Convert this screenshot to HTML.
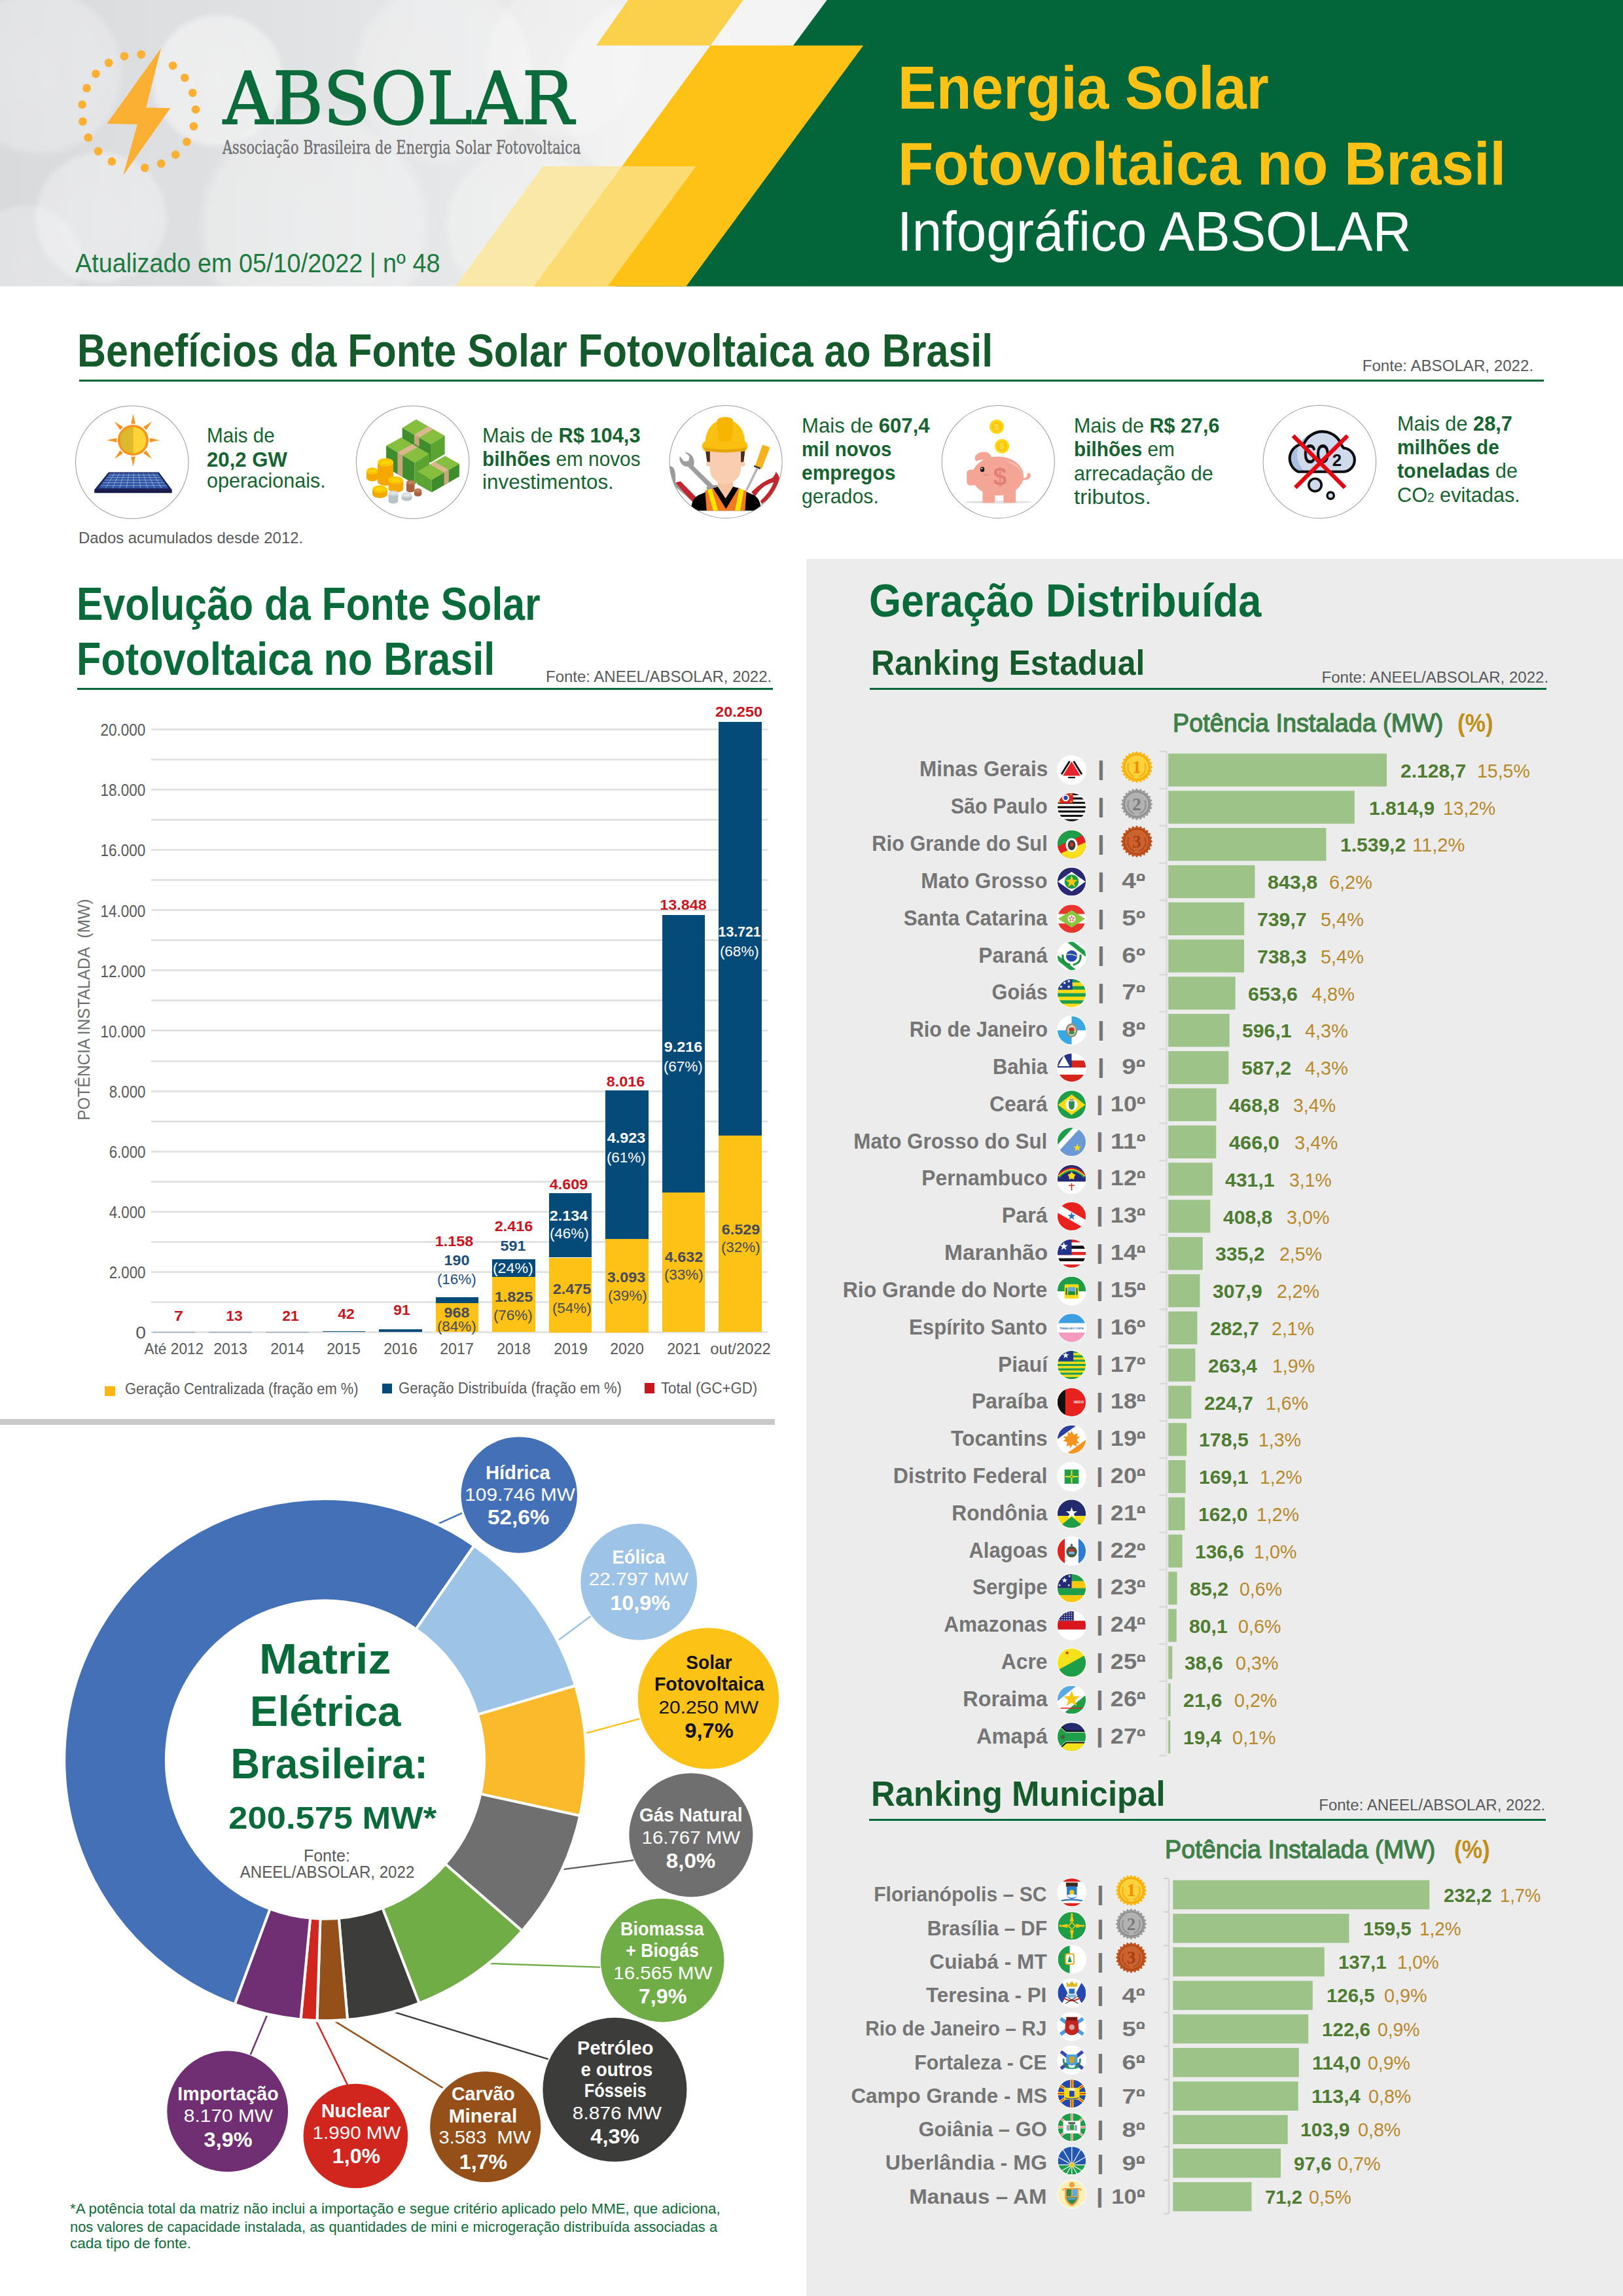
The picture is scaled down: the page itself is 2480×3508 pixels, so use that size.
<!DOCTYPE html>
<html lang="pt-BR"><head><meta charset="utf-8"><title>Energia Solar Fotovoltaica no Brasil - Infográfico ABSOLAR</title>
<style>html,body{margin:0;padding:0;background:#fff}#pg{position:relative;width:2480px;height:3508px;overflow:hidden;background:#fff;font-family:"Liberation Sans",sans-serif}.t{position:absolute;white-space:nowrap;margin:0;padding:0}svg{position:absolute;overflow:visible}</style></head><body><div id="pg">
<svg width="2480" height="438" viewBox="0 0 2480 438" style="left:0;top:0"><defs><radialGradient id="bk" cx="50%" cy="50%" r="50%"><stop offset="0" stop-color="#fff" stop-opacity="0.8"/><stop offset="0.9" stop-color="#fff" stop-opacity="0.7"/><stop offset="1" stop-color="#fff" stop-opacity="0"/></radialGradient><linearGradient id="hbg" x1="0" y1="0" x2="1" y2="0"><stop offset="0" stop-color="#d9dadc"/><stop offset="0.2" stop-color="#e2e3e4"/><stop offset="0.4" stop-color="#eeeeef"/><stop offset="0.55" stop-color="#ebebec"/></linearGradient></defs><rect x="0" y="0" width="2480" height="437.4" fill="url(#hbg)"/><circle cx="333" cy="123" r="105" fill="url(#bk)" opacity="0.6"/><circle cx="62" cy="111" r="130" fill="url(#bk)" opacity="0.35"/><circle cx="154" cy="333" r="105" fill="url(#bk)" opacity="0.45"/><circle cx="480" cy="345" r="180" fill="url(#bk)" opacity="0.4"/><circle cx="678" cy="111" r="142" fill="url(#bk)" opacity="0.35"/><circle cx="862" cy="92" r="123" fill="url(#bk)" opacity="0.3"/><circle cx="800" cy="345" r="123" fill="url(#bk)" opacity="0.35"/><circle cx="1000" cy="140" r="150" fill="url(#bk)" opacity="0.4"/><circle cx="1180" cy="40" r="90" fill="url(#bk)" opacity="0.5"/><circle cx="40" cy="400" r="90" fill="url(#bk)" opacity="0.3"/><polygon points="1263.6,0 2480,0 2480,437.4 940,437.4" fill="#03663A"/><polygon points="959.9,0 1135.8,0 1085.6,69.5 911,69.5" fill="#FBD04A"/><polygon points="1085.6,69.5 1319.2,69.5 1048.5,437.4 816,437.4" fill="#FDC215"/><polygon points="829.3,254 951,254 816,437.4 696.2,437.4" fill="#FAE8A8"/><polygon points="950.5,254 1063.5,254 928.4,437.4 815.5,437.4" fill="#FDDB73"/><circle cx="215.8" cy="83.1" r="6.4" fill="#FBB034"/><circle cx="264.1" cy="100.3" r="6.4" fill="#FBB034"/><circle cx="282.3" cy="118.8" r="6.4" fill="#FBB034"/><circle cx="294.3" cy="141.8" r="6.4" fill="#FBB034"/><circle cx="299.0" cy="167.3" r="6.4" fill="#FBB034"/><circle cx="295.9" cy="193.0" r="6.4" fill="#FBB034"/><circle cx="285.4" cy="216.7" r="6.4" fill="#FBB034"/><circle cx="268.3" cy="236.3" r="6.4" fill="#FBB034"/><circle cx="246.3" cy="250.0" r="6.4" fill="#FBB034"/><circle cx="221.2" cy="256.5" r="6.4" fill="#FBB034"/><circle cx="170.9" cy="246.7" r="6.4" fill="#FBB034"/><circle cx="150.1" cy="231.1" r="6.4" fill="#FBB034"/><circle cx="134.8" cy="210.2" r="6.4" fill="#FBB034"/><circle cx="126.4" cy="185.6" r="6.4" fill="#FBB034"/><circle cx="125.6" cy="159.7" r="6.4" fill="#FBB034"/><circle cx="132.5" cy="134.7" r="6.4" fill="#FBB034"/><circle cx="146.4" cy="112.8" r="6.4" fill="#FBB034"/><circle cx="166.2" cy="96.0" r="6.4" fill="#FBB034"/><circle cx="190.0" cy="85.8" r="6.4" fill="#FBB034"/><polygon points="246.2,73.2 163.3,189 209.9,190.1 188.1,268.1 260.3,165.3 223.3,164.2" fill="#FBB034"/></svg>
<div class="t" style="left:340.6px;top:95.8px;font:400 110.0px/1 'DejaVu Serif', 'Liberation Serif', serif;color:#0B6B3A;transform:scaleX(0.9551);transform-origin:left ;-webkit-text-stroke:1.8px #0B6B3A;">ABSOLAR</div>
<div class="t" style="left:339.8px;top:211.5px;font:400 27.0px/1 'DejaVu Serif', 'Liberation Serif', serif;color:#6d6e70;transform:scaleX(0.7726);transform-origin:left ;-webkit-text-stroke:0.35px #6d6e70;">Associação Brasileira de Energia Solar Fotovoltaica</div>
<div class="t" style="left:115.2px;top:381.7px;font:400 40.56px/1 'Liberation Sans', sans-serif;color:#1B7A3E;transform:scaleX(0.9323);transform-origin:left ;">Atualizado em 05/10/2022 | nº 48</div>
<div class="t" style="left:1371.8px;top:86.8px;font:700 93.60000000000001px/1 'Liberation Sans', sans-serif;color:#FDC215;transform:scaleX(0.9393);transform-origin:left ;">Energia Solar</div>
<div class="t" style="left:1371.8px;top:202.6px;font:700 93.60000000000001px/1 'Liberation Sans', sans-serif;color:#FDC215;transform:scaleX(0.9505);transform-origin:left ;">Fotovoltaica no Brasil</div>
<div class="t" style="left:1371.2px;top:311.3px;font:400 85.28px/1 'Liberation Sans', sans-serif;color:#ffffff;transform:scaleX(0.9581);transform-origin:left ;">Infográfico ABSOLAR</div>
<div class="t" style="left:118.2px;top:502.4px;font:700 69.68px/1 'Liberation Sans', sans-serif;color:#155A2B;transform:scaleX(0.8750);transform-origin:left ;">Benefícios da Fonte Solar Fotovoltaica ao Brasil</div>
<div style="position:absolute;left:121.0px;top:580.0px;width:2238.0px;height:3.0px;background:#04683A;"></div>
<div class="t" style="left:2084.3px;top:547.3px;font:400 23.92px/1 'Liberation Sans', sans-serif;color:#58595b;transform:scaleX(1.0091);transform-origin:right ;">Fonte: ABSOLAR, 2022.</div>
<div class="t" style="left:119.9px;top:810.3px;font:400 24.44px/1 'Liberation Sans', sans-serif;color:#58595b;transform:scaleX(0.9790);transform-origin:left ;">Dados acumulados desde 2012.</div>
<svg width="2480" height="200" viewBox="0 610 2480 200" style="left:0;top:610px"><g transform="translate(110,615) scale(0.11399)"><circle cx="805" cy="800" r="757" fill="#fff" stroke="#9b9b9b" stroke-width="9"/><polygon transform="rotate(0 820 505)" points="820,150 848,285 792,285" fill="#F7941D"/><polygon transform="rotate(45 820 505)" points="820,150 848,285 792,285" fill="#F7941D"/><polygon transform="rotate(90 820 505)" points="820,150 848,285 792,285" fill="#F7941D"/><polygon transform="rotate(135 820 505)" points="820,150 848,285 792,285" fill="#F7941D"/><polygon transform="rotate(180 820 505)" points="820,150 848,285 792,285" fill="#F7941D"/><polygon transform="rotate(225 820 505)" points="820,150 848,285 792,285" fill="#F7941D"/><polygon transform="rotate(270 820 505)" points="820,150 848,285 792,285" fill="#F7941D"/><polygon transform="rotate(315 820 505)" points="820,150 848,285 792,285" fill="#F7941D"/><circle cx="820" cy="505" r="207" fill="#F7941D"/><path d="M820,330 A175,175 0 0 0 820,680 Z" fill="#DDB92E"/><path d="M820,330 A175,175 0 0 1 820,680 Z" fill="#FCD535"/><polygon points="300,1165 1340,1165 1340,1212 300,1212" fill="#1B1B4B"/><polygon points="490,935 1165,935 1340,1168 300,1168" fill="#1E2560"/><polygon points="505,948 1150,948 1295,1150 355,1150" fill="#2F55A4"/><line x1="570" y1="948" x2="449" y2="1150" stroke="#BFD3F2" stroke-width="5"/><line x1="634" y1="948" x2="543" y2="1150" stroke="#BFD3F2" stroke-width="5"/><line x1="698" y1="948" x2="637" y2="1150" stroke="#BFD3F2" stroke-width="5"/><line x1="763" y1="948" x2="731" y2="1150" stroke="#BFD3F2" stroke-width="5"/><line x1="828" y1="948" x2="825" y2="1150" stroke="#BFD3F2" stroke-width="5"/><line x1="892" y1="948" x2="919" y2="1150" stroke="#BFD3F2" stroke-width="5"/><line x1="956" y1="948" x2="1013" y2="1150" stroke="#BFD3F2" stroke-width="5"/><line x1="1021" y1="948" x2="1107" y2="1150" stroke="#BFD3F2" stroke-width="5"/><line x1="1086" y1="948" x2="1201" y2="1150" stroke="#BFD3F2" stroke-width="5"/><line x1="486" y1="974" x2="1168" y2="974" stroke="#BFD3F2" stroke-width="5"/><line x1="463" y1="1005" x2="1191" y2="1005" stroke="#BFD3F2" stroke-width="5"/><line x1="437" y1="1039" x2="1215" y2="1039" stroke="#BFD3F2" stroke-width="5"/><line x1="411" y1="1075" x2="1241" y2="1075" stroke="#BFD3F2" stroke-width="5"/><line x1="383" y1="1112" x2="1268" y2="1112" stroke="#BFD3F2" stroke-width="5"/></g><g transform="translate(540,615) scale(0.11399)"><circle cx="795" cy="800" r="757" fill="#fff" stroke="#9b9b9b" stroke-width="9"/><polygon points="655,340 840,225 1225,445 1035,560" fill="#86BE3E"/><polygon points="655,340 1035,560 1035,805 655,585" fill="#3E8C2C"/><polygon points="1035,560 1225,445 1225,690 1035,805" fill="#5BA431"/><polygon points="815,432 883,472 1071,357 1002,317" fill="#D9B88F"/><polygon points="815,432 883,472 883,592 815,552" fill="#C9A57C"/><polygon points="440,580 640,470 1020,690 820,805" fill="#86BE3E"/><polygon points="440,580 820,805 820,1095 440,870" fill="#3E8C2C"/><polygon points="820,805 1020,690 1020,980 820,1095" fill="#5BA431"/><polygon points="592,670 660,710 860,598 792,558" fill="#D9B88F"/><polygon points="592,670 660,710 660,1000 592,960" fill="#C9A57C"/><polygon points="855,925 1230,715 1420,822 1050,1035" fill="#86BE3E"/><polygon points="855,925 1050,1035 1050,1205 855,1095" fill="#5BA431"/><polygon points="1050,1035 1420,822 1420,992 1050,1205" fill="#3E8C2C"/><polygon points="1216,939 1279,903 1088,795 1024,830" fill="#D9B88F"/><polygon points="1216,939 1279,903 1279,1073 1216,1109" fill="#C9A57C"/><path d="M175,915 L175,1010 A80,45 0 0 0 335,1010 L335,915 Z" fill="#F5A800"/><ellipse cx="255" cy="915" rx="80" ry="45" fill="#FFD400"/><ellipse cx="255" cy="915" rx="56" ry="31" fill="none" stroke="#F5A800" stroke-width="8"/><path d="M325,800 L325,1060 A105,55 0 0 0 535,1060 L535,800 Z" fill="#F5A800"/><ellipse cx="430" cy="800" rx="105" ry="55" fill="#FFD400"/><ellipse cx="430" cy="800" rx="74" ry="38" fill="none" stroke="#F5A800" stroke-width="8"/><path d="M470,1040 L470,1155 A100,50 0 0 0 670,1155 L670,1040 Z" fill="#F5A800"/><ellipse cx="570" cy="1040" rx="100" ry="50" fill="#FFD400"/><ellipse cx="570" cy="1040" rx="70" ry="35" fill="none" stroke="#F5A800" stroke-width="8"/><path d="M255,1160 L255,1230 A100,50 0 0 0 455,1230 L455,1160 Z" fill="#F5A800"/><ellipse cx="355" cy="1160" rx="100" ry="50" fill="#FFD400"/><ellipse cx="355" cy="1160" rx="70" ry="35" fill="none" stroke="#F5A800" stroke-width="8"/><path d="M710,1070 L710,1175 A55,30 0 0 0 820,1175 L820,1070 Z" fill="#A9623F"/><ellipse cx="765" cy="1070" rx="55" ry="30" fill="#C98761"/><ellipse cx="765" cy="1070" rx="38" ry="21" fill="none" stroke="#A9623F" stroke-width="8"/><path d="M815,1180 L815,1230 A50,28 0 0 0 915,1230 L915,1180 Z" fill="#A9623F"/><ellipse cx="865" cy="1180" rx="50" ry="28" fill="#C98761"/><ellipse cx="865" cy="1180" rx="35" ry="20" fill="none" stroke="#A9623F" stroke-width="8"/><path d="M470,1215 L470,1320 A65,35 0 0 0 600,1320 L600,1215 Z" fill="#B9C2C6"/><ellipse cx="535" cy="1215" rx="65" ry="35" fill="#E3E8EA"/><ellipse cx="535" cy="1215" rx="46" ry="24" fill="none" stroke="#B9C2C6" stroke-width="8"/><path d="M645,1240 L645,1285 A70,35 0 0 0 785,1285 L785,1240 Z" fill="#B9C2C6"/><ellipse cx="715" cy="1240" rx="70" ry="35" fill="#E3E8EA"/><ellipse cx="715" cy="1240" rx="49" ry="24" fill="none" stroke="#B9C2C6" stroke-width="8"/></g><g transform="translate(1017,615) scale(0.11399)"><defs><clipPath id="wk"><circle cx="808" cy="795" r="752"/></clipPath></defs><circle cx="808" cy="795" r="755" fill="#fff" stroke="#9b9b9b" stroke-width="9"/><g clip-path="url(#wk)"><path d="M60,850 Q150,860 130,1080 L400,1330 L330,1300 L100,1100 Q40,950 60,850Z" fill="#9a9a9a"/><path d="M130,1075 L200,1055 L430,1290 L360,1330 Z" fill="#C1272D"/><path d="M1150,1200 Q1300,1050 1430,1010 Q1480,960 1475,925 Q1540,990 1520,1050 Q1450,1250 1290,1360 L1270,1320 Q1400,1200 1450,1070 Q1300,1100 1200,1260 Z" fill="#C1272D"/><path d="M255,665 Q330,670 365,730 Q395,790 375,850 L640,1110 Q700,1090 750,1140 L560,1180 Q540,1140 560,1120 L300,860 Q230,860 200,800 Q180,760 190,720 L250,790 L310,780 L320,720 Z" fill="#9E9E9E"/><path d="M1300,565 L1400,600 L1290,885 L1200,850 Z" fill="#F5B21B"/><path d="M1190,840 L1275,875 L1265,895 L1182,860 Z" fill="#333"/><path d="M1215,875 L1245,887 L1100,1180 L1072,1168 Z" fill="#B5B5B5"/><path d="M345,1450 L345,1400 Q360,1260 480,1225 L660,1140 L960,1140 L1150,1225 Q1260,1260 1275,1400 L1275,1450 Z" fill="#000"/><path d="M530,1180 L640,1150 L810,1420 L975,1150 L1085,1185 L1065,1450 L550,1450 Z" fill="#F37A22"/><path d="M560,1172 L620,1156 L705,1450 L640,1450 Z" fill="#FFE600"/><path d="M990,1156 L1050,1172 L1000,1450 L930,1450 Z" fill="#FFE600"/><path d="M640,1150 L730,1120 L810,1290 L890,1120 L975,1150 L810,1425 Z" fill="#000"/><path d="M700,1000 L905,1000 L905,1130 L805,1285 L700,1130 Z" fill="#F4C3A2"/><path d="M535,640 L1065,640 L1045,820 L1000,800 L600,800 L560,820 Z" fill="#4A2A1C"/><path d="M595,640 L1010,640 L1010,900 Q1000,1060 800,1100 Q600,1060 595,900 Z" fill="#F9CDB0"/><circle cx="575" cy="825" r="32" fill="#F9CDB0"/><circle cx="1035" cy="825" r="32" fill="#F9CDB0"/><path d="M530,545 Q540,330 690,250 Q700,195 800,195 Q900,195 905,250 Q1060,330 1065,545 Z" fill="#FBC112"/><path d="M690,250 Q700,195 800,195 Q900,195 905,250 L880,560 L715,560 Z" fill="#F7B500"/><rect x="490" y="515" width="610" height="140" rx="65" fill="#F9BE10"/><path d="M520,600 Q800,660 1075,600 Q1085,640 1040,652 Q800,690 560,652 Q515,640 520,600Z" fill="#E6A60A"/></g></g><g transform="translate(1433,615) scale(0.11399)"><circle cx="810" cy="795" r="755" fill="#fff" stroke="#9b9b9b" stroke-width="9"/><ellipse cx="810" cy="1335" rx="450" ry="20" fill="#E3E3E3"/><path d="M1130,1010 Q1190,1020 1200,975 Q1195,940 1225,945 Q1255,955 1240,1000 Q1225,1040 1140,1040Z" fill="#F5A596"/><rect x="600" y="1150" width="165" height="195" rx="25" fill="#F5A596"/><rect x="880" y="1150" width="165" height="195" rx="25" fill="#F5A596"/><ellipse cx="805" cy="985" rx="345" ry="262" fill="#F5A596"/><rect x="388" y="900" width="160" height="210" rx="45" fill="#F5A596"/><path d="M500,770 Q480,690 590,665 Q700,650 720,740 Q700,790 640,770 Q560,760 520,785Z" fill="#F5A596"/><path d="M905,780 Q1100,800 1140,1000 Q1120,860 905,780Z" fill="#FAC4BA"/><ellipse cx="597" cy="897" rx="28" ry="36" fill="#1a1a1a"/><circle cx="590" cy="885" r="9" fill="#fff"/><ellipse cx="650" cy="970" rx="40" ry="14" fill="#F08E8E"/><text x="832" y="1108" font-family="Liberation Sans, sans-serif" font-weight="700" font-size="330" fill="#E37F76" text-anchor="middle">$</text><circle cx="790" cy="325" r="96" fill="#FFD713"/><circle cx="790" cy="325" r="68" fill="#FBC70B"/><text x="790" y="367" font-family="Liberation Sans, sans-serif" font-weight="700" font-size="120" fill="#FFE24D" text-anchor="middle">$</text><circle cx="860" cy="585" r="96" fill="#FFD713"/><circle cx="860" cy="585" r="68" fill="#FBC70B"/><text x="860" y="627" font-family="Liberation Sans, sans-serif" font-weight="700" font-size="120" fill="#FFE24D" text-anchor="middle">$</text></g><g transform="translate(1924,615) scale(0.11399)"><circle cx="810" cy="795" r="757" fill="#fff" stroke="#9b9b9b" stroke-width="9"/><path d="M525,928 A195,195 0 0 1 600,555 A270,270 0 0 1 1100,560 Q1120,600 1135,610 A160,160 0 0 1 1140,928 Z" fill="#CFDBEC"/><path d="M525,928 A195,195 0 0 1 600,555 A270,270 0 0 1 760,400 A300,300 0 0 0 620,928 Z" fill="#A9C0DE"/><path d="M525,928 A195,195 0 0 1 600,555 A270,270 0 0 1 1100,560 Q1120,600 1135,610 A160,160 0 0 1 1140,928 Z" fill="none" stroke="#0b0b0b" stroke-width="36" stroke-linejoin="round"/><text x="595" y="815" font-family="Liberation Sans, sans-serif" font-weight="700" font-size="372" fill="#0b0b0b" textLength="350" lengthAdjust="spacingAndGlyphs">CO</text><text x="980" y="850" font-family="Liberation Sans, sans-serif" font-weight="700" font-size="225" fill="#0b0b0b">2</text><circle cx="750" cy="1105" r="85" fill="#CFDBEC" stroke="#0b0b0b" stroke-width="32"/><circle cx="958" cy="1247" r="45" fill="#CFDBEC" stroke="#0b0b0b" stroke-width="30"/><line x1="455" y1="445" x2="1150" y2="1140" stroke="#E30613" stroke-width="55"/><line x1="1185" y1="445" x2="485" y2="1140" stroke="#E30613" stroke-width="55"/></g></svg>
<div class="t" style="left:315.6px;top:650.1px;font:400 31.720000000000002px/1 'Liberation Sans', sans-serif;color:#15632F;transform:scaleX(0.9350);transform-origin:left ;">Mais de</div>
<div class="t" style="left:315.6px;top:686.5px;font:400 31.720000000000002px/1 'Liberation Sans', sans-serif;color:#15632F;transform:scaleX(0.9815);transform-origin:left ;"><b>20,2 GW</b></div>
<div class="t" style="left:315.6px;top:719.3px;font:400 31.720000000000002px/1 'Liberation Sans', sans-serif;color:#15632F;transform:scaleX(0.9638);transform-origin:left ;">operacionais.</div>
<div class="t" style="left:736.9px;top:650.1px;font:400 31.720000000000002px/1 'Liberation Sans', sans-serif;color:#15632F;transform:scaleX(0.9716);transform-origin:left ;">Mais de <b>R$ 104,3</b></div>
<div class="t" style="left:736.9px;top:685.5px;font:400 31.720000000000002px/1 'Liberation Sans', sans-serif;color:#15632F;transform:scaleX(0.9385);transform-origin:left ;"><b>bilhões</b> em novos</div>
<div class="t" style="left:736.9px;top:721.0px;font:400 31.720000000000002px/1 'Liberation Sans', sans-serif;color:#15632F;transform:scaleX(0.9907);transform-origin:left ;">investimentos.</div>
<div class="t" style="left:1225.2px;top:635.1px;font:400 31.720000000000002px/1 'Liberation Sans', sans-serif;color:#15632F;transform:scaleX(0.9819);transform-origin:left ;">Mais de <b>607,4</b></div>
<div class="t" style="left:1225.2px;top:671.1px;font:400 31.720000000000002px/1 'Liberation Sans', sans-serif;color:#15632F;transform:scaleX(0.9277);transform-origin:left ;"><b>mil novos</b></div>
<div class="t" style="left:1225.2px;top:706.8px;font:400 31.720000000000002px/1 'Liberation Sans', sans-serif;color:#15632F;transform:scaleX(0.9456);transform-origin:left ;"><b>empregos</b></div>
<div class="t" style="left:1225.2px;top:743.1px;font:400 31.720000000000002px/1 'Liberation Sans', sans-serif;color:#15632F;transform:scaleX(0.9547);transform-origin:left ;">gerados.</div>
<div class="t" style="left:1641.0px;top:635.1px;font:400 31.720000000000002px/1 'Liberation Sans', sans-serif;color:#15632F;transform:scaleX(0.9631);transform-origin:left ;">Mais de <b>R$ 27,6</b></div>
<div class="t" style="left:1641.0px;top:671.1px;font:400 31.720000000000002px/1 'Liberation Sans', sans-serif;color:#15632F;transform:scaleX(0.9386);transform-origin:left ;"><b>bilhões</b> em</div>
<div class="t" style="left:1641.0px;top:707.7px;font:400 31.720000000000002px/1 'Liberation Sans', sans-serif;color:#15632F;transform:scaleX(0.9656);transform-origin:left ;">arrecadação de</div>
<div class="t" style="left:1641.0px;top:744.1px;font:400 31.720000000000002px/1 'Liberation Sans', sans-serif;color:#15632F;transform:scaleX(1.0445);transform-origin:left ;">tributos.</div>
<div class="t" style="left:2135.2px;top:631.8px;font:400 31.720000000000002px/1 'Liberation Sans', sans-serif;color:#15632F;transform:scaleX(0.9682);transform-origin:left ;">Mais de <b>28,7</b></div>
<div class="t" style="left:2135.2px;top:667.5px;font:400 31.720000000000002px/1 'Liberation Sans', sans-serif;color:#15632F;transform:scaleX(0.9406);transform-origin:left ;"><b>milhões de</b></div>
<div class="t" style="left:2135.2px;top:704.0px;font:400 31.720000000000002px/1 'Liberation Sans', sans-serif;color:#15632F;transform:scaleX(0.9568);transform-origin:left ;"><b>toneladas</b> de</div>
<div class="t" style="left:2135.2px;top:740.8px;font:400 31.720000000000002px/1 'Liberation Sans', sans-serif;color:#15632F;transform:scaleX(0.9669);transform-origin:left ;">CO<span style="font-size:0.62em">2</span> evitadas.</div>
<div class="t" style="left:117.3px;top:888.1px;font:700 70.2px/1 'Liberation Sans', sans-serif;color:#0A6B3A;transform:scaleX(0.8653);transform-origin:left ;">Evolução da Fonte Solar</div>
<div class="t" style="left:117.3px;top:972.1px;font:700 70.2px/1 'Liberation Sans', sans-serif;color:#0A6B3A;transform:scaleX(0.8718);transform-origin:left ;">Fotovoltaica no Brasil</div>
<div style="position:absolute;left:118.0px;top:1051.3px;width:1063.0px;height:3.0px;background:#04683A;"></div>
<div class="t" style="left:835.4px;top:1022.1px;font:400 23.92px/1 'Liberation Sans', sans-serif;color:#58595b;transform:scaleX(1.0028);transform-origin:right ;">Fonte: ANEEL/ABSOLAR, 2022.</div>
<div style="position:absolute;left:231.2px;top:2034.0px;width:942.0px;height:3.0px;background:#e3e3e4;"></div>
<div class="t" style="left:208.5px;top:2024.4px;font:400 24.96px/1 'Liberation Sans', sans-serif;color:#58595b;transform:scaleX(1.1341);transform-origin:right ;">0</div>
<div style="position:absolute;left:231.2px;top:1987.9px;width:942.0px;height:3.0px;background:#e3e3e4;"></div>
<div style="position:absolute;left:231.2px;top:1941.9px;width:942.0px;height:3.0px;background:#e3e3e4;"></div>
<div class="t" style="left:160.0px;top:1932.3px;font:400 24.96px/1 'Liberation Sans', sans-serif;color:#58595b;transform:scaleX(0.8925);transform-origin:right ;">2.000</div>
<div style="position:absolute;left:231.2px;top:1895.8px;width:942.0px;height:3.0px;background:#e3e3e4;"></div>
<div style="position:absolute;left:231.2px;top:1849.8px;width:942.0px;height:3.0px;background:#e3e3e4;"></div>
<div class="t" style="left:160.0px;top:1840.1px;font:400 24.96px/1 'Liberation Sans', sans-serif;color:#58595b;transform:scaleX(0.8925);transform-origin:right ;">4.000</div>
<div style="position:absolute;left:231.2px;top:1803.7px;width:942.0px;height:3.0px;background:#e3e3e4;"></div>
<div style="position:absolute;left:231.2px;top:1757.6px;width:942.0px;height:3.0px;background:#e3e3e4;"></div>
<div class="t" style="left:160.0px;top:1748.0px;font:400 24.96px/1 'Liberation Sans', sans-serif;color:#58595b;transform:scaleX(0.8925);transform-origin:right ;">6.000</div>
<div style="position:absolute;left:231.2px;top:1711.6px;width:942.0px;height:3.0px;background:#e3e3e4;"></div>
<div style="position:absolute;left:231.2px;top:1665.5px;width:942.0px;height:3.0px;background:#e3e3e4;"></div>
<div class="t" style="left:160.0px;top:1655.9px;font:400 24.96px/1 'Liberation Sans', sans-serif;color:#58595b;transform:scaleX(0.8925);transform-origin:right ;">8.000</div>
<div style="position:absolute;left:231.2px;top:1619.5px;width:942.0px;height:3.0px;background:#e3e3e4;"></div>
<div style="position:absolute;left:231.2px;top:1573.4px;width:942.0px;height:3.0px;background:#e3e3e4;"></div>
<div class="t" style="left:146.1px;top:1563.8px;font:400 24.96px/1 'Liberation Sans', sans-serif;color:#58595b;transform:scaleX(0.9018);transform-origin:right ;">10.000</div>
<div style="position:absolute;left:231.2px;top:1527.3px;width:942.0px;height:3.0px;background:#e3e3e4;"></div>
<div style="position:absolute;left:231.2px;top:1481.3px;width:942.0px;height:3.0px;background:#e3e3e4;"></div>
<div class="t" style="left:146.1px;top:1471.7px;font:400 24.96px/1 'Liberation Sans', sans-serif;color:#58595b;transform:scaleX(0.9018);transform-origin:right ;">12.000</div>
<div style="position:absolute;left:231.2px;top:1435.2px;width:942.0px;height:3.0px;background:#e3e3e4;"></div>
<div style="position:absolute;left:231.2px;top:1389.2px;width:942.0px;height:3.0px;background:#e3e3e4;"></div>
<div class="t" style="left:146.1px;top:1379.5px;font:400 24.96px/1 'Liberation Sans', sans-serif;color:#58595b;transform:scaleX(0.9018);transform-origin:right ;">14.000</div>
<div style="position:absolute;left:231.2px;top:1343.1px;width:942.0px;height:3.0px;background:#e3e3e4;"></div>
<div style="position:absolute;left:231.2px;top:1297.0px;width:942.0px;height:3.0px;background:#e3e3e4;"></div>
<div class="t" style="left:146.1px;top:1287.4px;font:400 24.96px/1 'Liberation Sans', sans-serif;color:#58595b;transform:scaleX(0.9018);transform-origin:right ;">16.000</div>
<div style="position:absolute;left:231.2px;top:1251.0px;width:942.0px;height:3.0px;background:#e3e3e4;"></div>
<div style="position:absolute;left:231.2px;top:1204.9px;width:942.0px;height:3.0px;background:#e3e3e4;"></div>
<div class="t" style="left:146.1px;top:1195.3px;font:400 24.96px/1 'Liberation Sans', sans-serif;color:#58595b;transform:scaleX(0.9018);transform-origin:right ;">18.000</div>
<div style="position:absolute;left:231.2px;top:1158.9px;width:942.0px;height:3.0px;background:#e3e3e4;"></div>
<div style="position:absolute;left:231.2px;top:1112.8px;width:942.0px;height:3.0px;background:#e3e3e4;"></div>
<div class="t" style="left:146.1px;top:1103.2px;font:400 24.96px/1 'Liberation Sans', sans-serif;color:#58595b;transform:scaleX(0.9018);transform-origin:right ;">20.000</div>
<div class="t" style="left:-38.5px;top:1521.4px;font:400 25.48px/1 'Liberation Sans', sans-serif;color:#6d6e70;transform:rotate(-90deg) scaleX(0.9610);transform-origin:176.0px 21.6px ;">POTÊNCIA INSTALADA&nbsp; (MW)</div>
<div style="position:absolute;left:232.9px;top:2034.7px;width:65.5px;height:0.8px;background:#8fa3b8;"></div>
<div class="t" style="left:218.8px;top:2050.2px;font:400 23.400000000000002px/1 'Liberation Sans', sans-serif;color:#58595b;transform:scaleX(0.9693);transform-origin:center ;">Até 2012</div>
<div style="position:absolute;left:319.4px;top:2034.7px;width:65.5px;height:0.8px;background:#8fa3b8;"></div>
<div class="t" style="left:326.2px;top:2050.2px;font:400 23.400000000000002px/1 'Liberation Sans', sans-serif;color:#58595b;transform:scaleX(0.9913);transform-origin:center ;">2013</div>
<div style="position:absolute;left:406.0px;top:2034.5px;width:65.5px;height:1.0px;background:#8fa3b8;"></div>
<div class="t" style="left:412.7px;top:2050.2px;font:400 23.400000000000002px/1 'Liberation Sans', sans-serif;color:#58595b;transform:scaleX(0.9913);transform-origin:center ;">2014</div>
<div style="position:absolute;left:492.5px;top:2033.6px;width:65.5px;height:1.9px;background:#054B79;"></div>
<div class="t" style="left:499.3px;top:2050.2px;font:400 23.400000000000002px/1 'Liberation Sans', sans-serif;color:#58595b;transform:scaleX(0.9913);transform-origin:center ;">2015</div>
<div style="position:absolute;left:579.1px;top:2031.3px;width:65.5px;height:4.2px;background:#054B79;"></div>
<div class="t" style="left:585.8px;top:2050.2px;font:400 23.400000000000002px/1 'Liberation Sans', sans-serif;color:#58595b;transform:scaleX(0.9913);transform-origin:center ;">2016</div>
<div style="position:absolute;left:665.6px;top:1982.2px;width:65.5px;height:8.8px;background:#054B79;"></div>
<div style="position:absolute;left:665.6px;top:1990.9px;width:65.5px;height:44.6px;background:#FDC215;"></div>
<div class="t" style="left:672.4px;top:2050.2px;font:400 23.400000000000002px/1 'Liberation Sans', sans-serif;color:#58595b;transform:scaleX(0.9913);transform-origin:center ;">2017</div>
<div style="position:absolute;left:752.2px;top:1924.2px;width:65.5px;height:27.2px;background:#054B79;"></div>
<div style="position:absolute;left:752.2px;top:1951.4px;width:65.5px;height:84.1px;background:#FDC215;"></div>
<div class="t" style="left:758.9px;top:2050.2px;font:400 23.400000000000002px/1 'Liberation Sans', sans-serif;color:#58595b;transform:scaleX(0.9913);transform-origin:center ;">2018</div>
<div style="position:absolute;left:838.8px;top:1823.2px;width:65.5px;height:98.3px;background:#054B79;"></div>
<div style="position:absolute;left:838.8px;top:1921.5px;width:65.5px;height:114.0px;background:#FDC215;"></div>
<div class="t" style="left:845.5px;top:2050.2px;font:400 23.400000000000002px/1 'Liberation Sans', sans-serif;color:#58595b;transform:scaleX(0.9913);transform-origin:center ;">2019</div>
<div style="position:absolute;left:925.3px;top:1666.3px;width:65.5px;height:226.8px;background:#054B79;"></div>
<div style="position:absolute;left:925.3px;top:1893.0px;width:65.5px;height:142.5px;background:#FDC215;"></div>
<div class="t" style="left:932.0px;top:2050.2px;font:400 23.400000000000002px/1 'Liberation Sans', sans-serif;color:#58595b;transform:scaleX(0.9913);transform-origin:center ;">2020</div>
<div style="position:absolute;left:1011.8px;top:1397.7px;width:65.5px;height:424.5px;background:#054B79;"></div>
<div style="position:absolute;left:1011.8px;top:1822.2px;width:65.5px;height:213.3px;background:#FDC215;"></div>
<div class="t" style="left:1018.6px;top:2050.2px;font:400 23.400000000000002px/1 'Liberation Sans', sans-serif;color:#58595b;transform:scaleX(0.9913);transform-origin:center ;">2021</div>
<div style="position:absolute;left:1098.4px;top:1102.8px;width:65.5px;height:632.0px;background:#054B79;"></div>
<div style="position:absolute;left:1098.4px;top:1734.8px;width:65.5px;height:300.7px;background:#FDC215;"></div>
<div class="t" style="left:1085.6px;top:2050.2px;font:400 23.400000000000002px/1 'Liberation Sans', sans-serif;color:#58595b;transform:scaleX(1.0178);transform-origin:center ;">out/2022</div>
<div class="t" style="left:267.0px;top:1999.9px;font:700 21.632px/1 'Liberation Sans', sans-serif;color:#C9151E;transform:scaleX(1.1591);transform-origin:center ;">7</div>
<div class="t" style="left:345.7px;top:1999.9px;font:700 21.632px/1 'Liberation Sans', sans-serif;color:#C9151E;transform:scaleX(1.0575);transform-origin:center ;">13</div>
<div class="t" style="left:431.8px;top:1999.9px;font:700 21.632px/1 'Liberation Sans', sans-serif;color:#C9151E;transform:scaleX(1.0575);transform-origin:center ;">21</div>
<div class="t" style="left:516.8px;top:1997.0px;font:700 21.632px/1 'Liberation Sans', sans-serif;color:#C9151E;transform:scaleX(1.0575);transform-origin:center ;">42</div>
<div class="t" style="left:601.9px;top:1991.4px;font:700 21.632px/1 'Liberation Sans', sans-serif;color:#C9151E;transform:scaleX(1.0575);transform-origin:center ;">91</div>
<div class="t" style="left:667.2px;top:1885.5px;font:700 21.632px/1 'Liberation Sans', sans-serif;color:#C9151E;transform:scaleX(1.0797);transform-origin:center ;">1.158</div>
<div class="t" style="left:680.0px;top:1915.1px;font:700 21.632px/1 'Liberation Sans', sans-serif;color:#1B4F7D;transform:scaleX(1.0790);transform-origin:center ;">190</div>
<div class="t" style="left:669.1px;top:1943.9px;font:400 21.632px/1 'Liberation Sans', sans-serif;color:#1B4F7D;transform:scaleX(1.0389);transform-origin:center ;">(16%)</div>
<div class="t" style="left:680.0px;top:1994.6px;font:700 21.632px/1 'Liberation Sans', sans-serif;color:#454B5C;transform:scaleX(1.0790);transform-origin:center ;">968</div>
<div class="t" style="left:669.1px;top:2016.0px;font:400 21.632px/1 'Liberation Sans', sans-serif;color:#454B5C;transform:scaleX(1.0389);transform-origin:center ;">(84%)</div>
<div class="t" style="left:757.7px;top:1862.6px;font:700 21.632px/1 'Liberation Sans', sans-serif;color:#C9151E;transform:scaleX(1.0797);transform-origin:center ;">2.416</div>
<div class="t" style="left:765.7px;top:1892.9px;font:700 21.632px/1 'Liberation Sans', sans-serif;color:#1B4F7D;transform:scaleX(1.0790);transform-origin:center ;">591</div>
<div class="t" style="left:755.1px;top:1927.3px;font:400 21.632px/1 'Liberation Sans', sans-serif;color:#fff;transform:scaleX(1.0735);transform-origin:center ;">(24%)</div>
<div class="t" style="left:757.9px;top:1970.5px;font:700 21.632px/1 'Liberation Sans', sans-serif;color:#454B5C;transform:scaleX(1.0797);transform-origin:center ;">1.825</div>
<div class="t" style="left:755.1px;top:1999.4px;font:400 21.632px/1 'Liberation Sans', sans-serif;color:#454B5C;transform:scaleX(1.0389);transform-origin:center ;">(76%)</div>
<div class="t" style="left:842.0px;top:1798.6px;font:700 21.632px/1 'Liberation Sans', sans-serif;color:#C9151E;transform:scaleX(1.0797);transform-origin:center ;">4.609</div>
<div class="t" style="left:842.4px;top:1846.7px;font:700 21.632px/1 'Liberation Sans', sans-serif;color:#fff;transform:scaleX(1.0797);transform-origin:center ;">2.134</div>
<div class="t" style="left:840.6px;top:1874.4px;font:400 21.632px/1 'Liberation Sans', sans-serif;color:#fff;transform:scaleX(1.0389);transform-origin:center ;">(46%)</div>
<div class="t" style="left:846.5px;top:1959.4px;font:700 21.632px/1 'Liberation Sans', sans-serif;color:#454B5C;transform:scaleX(1.0797);transform-origin:center ;">2.475</div>
<div class="t" style="left:844.7px;top:1988.3px;font:400 21.632px/1 'Liberation Sans', sans-serif;color:#454B5C;transform:scaleX(1.0389);transform-origin:center ;">(54%)</div>
<div class="t" style="left:928.9px;top:1641.5px;font:700 21.632px/1 'Liberation Sans', sans-serif;color:#C9151E;transform:scaleX(1.0797);transform-origin:center ;">8.016</div>
<div class="t" style="left:929.6px;top:1728.4px;font:700 21.632px/1 'Liberation Sans', sans-serif;color:#fff;transform:scaleX(1.0797);transform-origin:center ;">4.923</div>
<div class="t" style="left:927.8px;top:1758.0px;font:400 21.632px/1 'Liberation Sans', sans-serif;color:#fff;transform:scaleX(1.0389);transform-origin:center ;">(61%)</div>
<div class="t" style="left:929.9px;top:1941.0px;font:700 21.632px/1 'Liberation Sans', sans-serif;color:#454B5C;transform:scaleX(1.0797);transform-origin:center ;">3.093</div>
<div class="t" style="left:929.6px;top:1968.7px;font:400 21.632px/1 'Liberation Sans', sans-serif;color:#454B5C;transform:scaleX(1.0389);transform-origin:center ;">(39%)</div>
<div class="t" style="left:1010.5px;top:1372.0px;font:700 21.632px/1 'Liberation Sans', sans-serif;color:#C9151E;transform:scaleX(1.0799);transform-origin:center ;">13.848</div>
<div class="t" style="left:1016.5px;top:1589.0px;font:700 21.632px/1 'Liberation Sans', sans-serif;color:#fff;transform:scaleX(1.0797);transform-origin:center ;">9.216</div>
<div class="t" style="left:1014.7px;top:1618.6px;font:400 21.632px/1 'Liberation Sans', sans-serif;color:#fff;transform:scaleX(1.0389);transform-origin:center ;">(67%)</div>
<div class="t" style="left:1017.6px;top:1909.5px;font:700 21.632px/1 'Liberation Sans', sans-serif;color:#454B5C;transform:scaleX(1.0797);transform-origin:center ;">4.632</div>
<div class="t" style="left:1015.8px;top:1936.5px;font:400 21.632px/1 'Liberation Sans', sans-serif;color:#454B5C;transform:scaleX(1.0389);transform-origin:center ;">(33%)</div>
<div class="t" style="left:1096.4px;top:1076.7px;font:700 21.632px/1 'Liberation Sans', sans-serif;color:#C9151E;transform:scaleX(1.0874);transform-origin:center ;">20.250</div>
<div class="t" style="left:1096.6px;top:1413.2px;font:700 21.632px/1 'Liberation Sans', sans-serif;color:#fff;transform:scaleX(0.9816);transform-origin:center ;">13.721</div>
<div class="t" style="left:1100.8px;top:1442.7px;font:400 21.632px/1 'Liberation Sans', sans-serif;color:#fff;transform:scaleX(1.0389);transform-origin:center ;">(68%)</div>
<div class="t" style="left:1105.2px;top:1867.7px;font:700 21.632px/1 'Liberation Sans', sans-serif;color:#454B5C;transform:scaleX(1.0797);transform-origin:center ;">6.529</div>
<div class="t" style="left:1103.4px;top:1894.7px;font:400 21.632px/1 'Liberation Sans', sans-serif;color:#454B5C;transform:scaleX(1.0389);transform-origin:center ;">(32%)</div>
<div style="position:absolute;left:160.3px;top:2117.7px;width:15.5px;height:15.0px;background:#FBB615;"></div>
<div class="t" style="left:190.6px;top:2109.7px;font:400 23.92px/1 'Liberation Sans', sans-serif;color:#58595b;transform:scaleX(0.9156);transform-origin:left ;">Geração Centralizada (fração em %)</div>
<div style="position:absolute;left:583.5px;top:2114.3px;width:15.5px;height:15.0px;background:#054B79;"></div>
<div class="t" style="left:609.2px;top:2109.2px;font:400 23.92px/1 'Liberation Sans', sans-serif;color:#58595b;transform:scaleX(0.9231);transform-origin:left ;">Geração Distribuída (fração em %)</div>
<div style="position:absolute;left:985.2px;top:2113.4px;width:15.2px;height:15.2px;background:#C9151E;"></div>
<div class="t" style="left:1010.4px;top:2109.1px;font:400 23.92px/1 'Liberation Sans', sans-serif;color:#58595b;transform:scaleX(0.9265);transform-origin:left ;">Total (GC+GD)</div>
<div style="position:absolute;left:0.0px;top:2168.0px;width:1184.0px;height:9.0px;background:#c9c9c9;"></div>
<svg width="1240" height="1340" viewBox="0 2180 1240 1340" style="left:0;top:2180px"><line x1="658.5" y1="2333.1" x2="706" y2="2311.8" stroke="#4470B8" stroke-width="2.4"/><line x1="844.7" y1="2512.2" x2="902.7" y2="2469.2" stroke="#9DC3E6" stroke-width="2.4"/><line x1="884.3" y1="2651.2" x2="977.2" y2="2626.2" stroke="#FCC215" stroke-width="2.4"/><line x1="849.0" y1="2857.6" x2="968.4" y2="2842.1" stroke="#5a5a5a" stroke-width="2.4"/><line x1="736.2" y1="2999.6" x2="917.2" y2="3005.6" stroke="#70AD47" stroke-width="2.4"/><line x1="589.0" y1="3070.2" x2="837.8" y2="3146.2" stroke="#3C3C3B" stroke-width="2.4"/><line x1="500.9" y1="3081.6" x2="676.5" y2="3190.1" stroke="#95501A" stroke-width="2.4"/><line x1="478.6" y1="3078.6" x2="531.8" y2="3187.1" stroke="#D0261E" stroke-width="2.4"/><line x1="411.5" y1="3070.8" x2="382.8" y2="3139.3" stroke="#702E73" stroke-width="2.4"/><path d="M358.7,3062.4 A398.5,398.5 0 1 1 724.4,2361.5 L635.7,2489.2 A243,243 0 1 0 412.7,2916.6 Z" fill="#4470B8" stroke="#fff" stroke-width="4" stroke-linejoin="miter"/><path d="M724.4,2361.5 A398.5,398.5 0 0 1 879.1,2575.5 L730.0,2619.7 A243,243 0 0 0 635.7,2489.2 Z" fill="#9DC3E6" stroke="#fff" stroke-width="4" stroke-linejoin="miter"/><path d="M879.1,2575.5 A398.5,398.5 0 0 1 886.2,2774.3 L734.3,2740.9 A243,243 0 0 0 730.0,2619.7 Z" fill="#FBBA2C" stroke="#fff" stroke-width="4" stroke-linejoin="miter"/><path d="M886.2,2774.3 A398.5,398.5 0 0 1 797.8,2950.1 L680.4,2848.1 A243,243 0 0 0 734.3,2740.9 Z" fill="#706F6F" stroke="#fff" stroke-width="4" stroke-linejoin="miter"/><path d="M797.8,2950.1 A398.5,398.5 0 0 1 640.5,3060.5 L584.5,2915.4 A243,243 0 0 0 680.4,2848.1 Z" fill="#70AD47" stroke="#fff" stroke-width="4" stroke-linejoin="miter"/><path d="M640.5,3060.5 A398.5,398.5 0 0 1 531.0,3085.7 L517.8,2930.8 A243,243 0 0 0 584.5,2915.4 Z" fill="#3C3C3B" stroke="#fff" stroke-width="4" stroke-linejoin="miter"/><path d="M531.0,3085.7 A398.5,398.5 0 0 1 484.5,3087.0 L489.4,2931.6 A243,243 0 0 0 517.8,2930.8 Z" fill="#95501A" stroke="#fff" stroke-width="4" stroke-linejoin="miter"/><path d="M484.5,3087.0 A398.5,398.5 0 0 1 459.5,3085.4 L474.1,2930.6 A243,243 0 0 0 489.4,2931.6 Z" fill="#D0261E" stroke="#fff" stroke-width="4" stroke-linejoin="miter"/><path d="M459.5,3085.4 A398.5,398.5 0 0 1 358.7,3062.4 L412.7,2916.6 A243,243 0 0 0 474.1,2930.6 Z" fill="#702E73" stroke="#fff" stroke-width="4" stroke-linejoin="miter"/><circle cx="497" cy="2688.7" r="399.7" fill="none" stroke="#fff" stroke-width="3"/><circle cx="497" cy="2688.7" r="242.3" fill="none" stroke="#fff" stroke-width="3"/><circle cx="793.2" cy="2284.1" r="88.7" fill="#4470B8"/><circle cx="976.2" cy="2416.9" r="88.9" fill="#9DC3E6"/><circle cx="1082.4" cy="2595" r="107.7" fill="#FCC215"/><circle cx="1055.9" cy="2803.7" r="94.5" fill="#706F6F"/><circle cx="1012.1" cy="2995.1" r="94.3" fill="#70AD47"/><circle cx="939.4" cy="3192.8" r="110" fill="#3C3C3B"/><circle cx="741.7" cy="3249.5" r="84.6" fill="#95501A"/><circle cx="543.4" cy="3263.5" r="79.8" fill="#D0261E"/><circle cx="347.7" cy="3225.8" r="92.4" fill="#702E73"/></svg>
<div class="t" style="left:402.3px;top:2501.5px;font:700 65.52px/1 'Liberation Sans', sans-serif;color:#0A6B3A;transform:scaleX(1.0644);transform-origin:center ;">Matriz</div>
<div class="t" style="left:379.4px;top:2581.8px;font:700 65.52px/1 'Liberation Sans', sans-serif;color:#0A6B3A;transform:scaleX(0.9736);transform-origin:center ;">Elétrica</div>
<div class="t" style="left:343.4px;top:2662.0px;font:700 65.52px/1 'Liberation Sans', sans-serif;color:#0A6B3A;transform:scaleX(0.9401);transform-origin:center ;">Brasileira:</div>
<div class="t" style="left:364.6px;top:2753.5px;font:700 47.32px/1 'Liberation Sans', sans-serif;color:#0A6B3A;transform:scaleX(1.1091);transform-origin:center ;">200.575 MW*</div>
<div class="t" style="left:464.0px;top:2823.3px;font:400 24.96px/1 'Liberation Sans', sans-serif;color:#58595b;transform:scaleX(1.0026);transform-origin:center ;">Fonte:</div>
<div class="t" style="left:361.7px;top:2848.1px;font:400 24.96px/1 'Liberation Sans', sans-serif;color:#58595b;transform:scaleX(0.9658);transform-origin:center ;">ANEEL/ABSOLAR, 2022</div>
<div class="t" style="left:741.6px;top:2236.3px;font:700 29.12px/1 'Liberation Sans', sans-serif;color:#fff;transform:scaleX(1.0020);transform-origin:center ;">Hídrica</div>
<div class="t" style="left:715.2px;top:2269.7px;font:400 28.080000000000002px/1 'Liberation Sans', sans-serif;color:#fff;transform:scaleX(1.0586);transform-origin:center ;">109.746 MW</div>
<div class="t" style="left:747.7px;top:2302.6px;font:700 31.200000000000003px/1 'Liberation Sans', sans-serif;color:#fff;transform:scaleX(1.0683);transform-origin:center ;">52,6%</div>
<div class="t" style="left:933.3px;top:2364.6px;font:700 29.12px/1 'Liberation Sans', sans-serif;color:#fff;transform:scaleX(0.9445);transform-origin:center ;">Eólica</div>
<div class="t" style="left:904.4px;top:2398.8px;font:400 28.080000000000002px/1 'Liberation Sans', sans-serif;color:#fff;transform:scaleX(1.0581);transform-origin:center ;">22.797 MW</div>
<div class="t" style="left:933.6px;top:2434.4px;font:700 31.200000000000003px/1 'Liberation Sans', sans-serif;color:#fff;transform:scaleX(1.0378);transform-origin:center ;">10,9%</div>
<div class="t" style="left:1047.1px;top:2525.9px;font:700 29.12px/1 'Liberation Sans', sans-serif;color:#111;transform:scaleX(0.9641);transform-origin:center ;">Solar</div>
<div class="t" style="left:998.0px;top:2559.1px;font:700 29.12px/1 'Liberation Sans', sans-serif;color:#111;transform:scaleX(0.9779);transform-origin:center ;">Fotovoltaica</div>
<div class="t" style="left:1011.0px;top:2594.8px;font:400 28.080000000000002px/1 'Liberation Sans', sans-serif;color:#111;transform:scaleX(1.0637);transform-origin:center ;">20.250 MW</div>
<div class="t" style="left:1048.2px;top:2629.2px;font:700 31.200000000000003px/1 'Liberation Sans', sans-serif;color:#111;transform:scaleX(1.0491);transform-origin:center ;">9,7%</div>
<div class="t" style="left:973.8px;top:2759.3px;font:700 29.12px/1 'Liberation Sans', sans-serif;color:#fff;transform:scaleX(0.9643);transform-origin:center ;">Gás Natural</div>
<div class="t" style="left:984.2px;top:2793.5px;font:400 28.080000000000002px/1 'Liberation Sans', sans-serif;color:#fff;transform:scaleX(1.0484);transform-origin:center ;">16.767 MW</div>
<div class="t" style="left:1019.8px;top:2827.6px;font:700 31.200000000000003px/1 'Liberation Sans', sans-serif;color:#fff;transform:scaleX(1.0632);transform-origin:center ;">8,0%</div>
<div class="t" style="left:943.4px;top:2933.2px;font:700 29.12px/1 'Liberation Sans', sans-serif;color:#fff;transform:scaleX(0.9269);transform-origin:center ;">Biomassa</div>
<div class="t" style="left:951.4px;top:2966.3px;font:700 29.12px/1 'Liberation Sans', sans-serif;color:#fff;transform:scaleX(0.9127);transform-origin:center ;">+ Biogás</div>
<div class="t" style="left:940.7px;top:3000.9px;font:400 28.080000000000002px/1 'Liberation Sans', sans-serif;color:#fff;transform:scaleX(1.0526);transform-origin:center ;">16.565 MW</div>
<div class="t" style="left:976.9px;top:3034.6px;font:700 31.200000000000003px/1 'Liberation Sans', sans-serif;color:#fff;transform:scaleX(1.0364);transform-origin:center ;">7,9%</div>
<div class="t" style="left:882.2px;top:3114.6px;font:700 29.12px/1 'Liberation Sans', sans-serif;color:#fff;transform:scaleX(0.9992);transform-origin:center ;">Petróleo</div>
<div class="t" style="left:885.4px;top:3147.9px;font:700 29.12px/1 'Liberation Sans', sans-serif;color:#fff;transform:scaleX(0.9543);transform-origin:center ;">e outros</div>
<div class="t" style="left:886.3px;top:3180.3px;font:700 29.12px/1 'Liberation Sans', sans-serif;color:#fff;transform:scaleX(0.8762);transform-origin:center ;">Fósseis</div>
<div class="t" style="left:878.8px;top:3214.8px;font:400 28.080000000000002px/1 'Liberation Sans', sans-serif;color:#fff;transform:scaleX(1.0646);transform-origin:center ;">8.876 MW</div>
<div class="t" style="left:903.8px;top:3248.6px;font:700 31.200000000000003px/1 'Liberation Sans', sans-serif;color:#fff;transform:scaleX(1.0491);transform-origin:center ;">4,3%</div>
<div class="t" style="left:688.5px;top:3185.3px;font:700 29.12px/1 'Liberation Sans', sans-serif;color:#fff;transform:scaleX(0.9816);transform-origin:center ;">Carvão</div>
<div class="t" style="left:686.9px;top:3218.5px;font:700 29.12px/1 'Liberation Sans', sans-serif;color:#fff;transform:scaleX(1.0262);transform-origin:center ;">Mineral</div>
<div class="t" style="left:672.9px;top:3252.2px;font:400 28.080000000000002px/1 'Liberation Sans', sans-serif;color:#fff;transform:scaleX(1.0373);transform-origin:center ;">3.583&nbsp; MW</div>
<div class="t" style="left:703.1px;top:3287.5px;font:700 31.200000000000003px/1 'Liberation Sans', sans-serif;color:#fff;transform:scaleX(1.0336);transform-origin:center ;">1,7%</div>
<div class="t" style="left:490.2px;top:3210.9px;font:700 29.12px/1 'Liberation Sans', sans-serif;color:#fff;transform:scaleX(0.9831);transform-origin:center ;">Nuclear</div>
<div class="t" style="left:481.1px;top:3245.4px;font:400 28.080000000000002px/1 'Liberation Sans', sans-serif;color:#fff;transform:scaleX(1.0528);transform-origin:center ;">1.990 MW</div>
<div class="t" style="left:508.6px;top:3279.1px;font:700 31.200000000000003px/1 'Liberation Sans', sans-serif;color:#fff;transform:scaleX(1.0322);transform-origin:center ;">1,0%</div>
<div class="t" style="left:270.3px;top:3185.3px;font:700 29.12px/1 'Liberation Sans', sans-serif;color:#fff;transform:scaleX(0.9851);transform-origin:center ;">Importação</div>
<div class="t" style="left:284.5px;top:3219.4px;font:400 28.080000000000002px/1 'Liberation Sans', sans-serif;color:#fff;transform:scaleX(1.0646);transform-origin:center ;">8.170 MW</div>
<div class="t" style="left:312.9px;top:3254.3px;font:700 31.200000000000003px/1 'Liberation Sans', sans-serif;color:#fff;transform:scaleX(1.0393);transform-origin:center ;">3,9%</div>
<div class="t" style="left:106.5px;top:3362.6px;font:400 22.880000000000003px/1 'Liberation Sans', sans-serif;color:#0D6B38;transform:scaleX(0.9743);transform-origin:left ;">*A potência total da matriz não inclui a importação e segue critério aplicado pelo MME, que adiciona,</div>
<div class="t" style="left:106.5px;top:3390.5px;font:400 22.880000000000003px/1 'Liberation Sans', sans-serif;color:#0D6B38;transform:scaleX(0.9567);transform-origin:left ;">nos valores de capacidade instalada, as quantidades de mini e microgeração distribuída associadas a</div>
<div class="t" style="left:106.5px;top:3416.3px;font:400 22.880000000000003px/1 'Liberation Sans', sans-serif;color:#0D6B38;transform:scaleX(0.9829);transform-origin:left ;">cada tipo de fonte.</div>
<div style="position:absolute;left:1231.5px;top:853.7px;width:1248.5px;height:2654.3px;background:#ECECEC;"></div>
<div class="t" style="left:1327.8px;top:883.4px;font:700 70.2px/1 'Liberation Sans', sans-serif;color:#0A6B3A;transform:scaleX(0.8984);transform-origin:left ;">Geração Distribuída</div>
<div class="t" style="left:1330.6px;top:985.2px;font:700 54.08px/1 'Liberation Sans', sans-serif;color:#155A2B;transform:scaleX(0.9220);transform-origin:left ;">Ranking Estadual</div>
<div style="position:absolute;left:1328.5px;top:1051.0px;width:1034.5px;height:3.0px;background:#04683A;"></div>
<div class="t" style="left:2021.5px;top:1022.8px;font:400 23.92px/1 'Liberation Sans', sans-serif;color:#58595b;transform:scaleX(1.0075);transform-origin:right ;">Fonte: ANEEL/ABSOLAR, 2022.</div>
<div class="t" style="left:1791.8px;top:1086.4px;font:400 38.480000000000004px/1 'Liberation Sans', sans-serif;color:#3F8049;transform:scaleX(0.9814);transform-origin:left ;-webkit-text-stroke:1.3px #3F8049;">Potência Instalada (MW)</div>
<div class="t" style="left:2226.8px;top:1086.4px;font:700 38.480000000000004px/1 'Liberation Sans', sans-serif;color:#BF8F16;transform:scaleX(0.9134);transform-origin:left ;">(%)</div>
<div class="t" style="left:1330.6px;top:2713.2px;font:700 54.08px/1 'Liberation Sans', sans-serif;color:#155A2B;transform:scaleX(0.9410);transform-origin:left ;">Ranking Municipal</div>
<div style="position:absolute;left:1328.2px;top:2778.6px;width:1034.0px;height:3.0px;background:#04683A;"></div>
<div class="t" style="left:2016.9px;top:2746.0px;font:400 23.92px/1 'Liberation Sans', sans-serif;color:#58595b;transform:scaleX(1.0052);transform-origin:right ;">Fonte: ANEEL/ABSOLAR, 2022.</div>
<div class="t" style="left:1780.0px;top:2806.5px;font:400 38.480000000000004px/1 'Liberation Sans', sans-serif;color:#3F8049;transform:scaleX(0.9814);transform-origin:left ;-webkit-text-stroke:1.3px #3F8049;">Potência Instalada (MW)</div>
<div class="t" style="left:2221.6px;top:2806.5px;font:700 38.480000000000004px/1 'Liberation Sans', sans-serif;color:#BF8F16;transform:scaleX(0.9150);transform-origin:left ;">(%)</div>
<svg width="1250" height="2400" viewBox="1231 1100 1250 2400" style="left:1231px;top:1100px"><rect x="1781" y="1148" width="3" height="1531" fill="#DEDEDE"/><rect x="1784.8" y="2869.9" width="2.6" height="512.4" fill="#D6D6D6"/><rect x="1771.5" y="1147.0" width="11" height="2.4" fill="#D8D8D8"/><rect x="1771.5" y="1203.8" width="11" height="2.4" fill="#D8D8D8"/><rect x="1771.5" y="1260.6" width="11" height="2.4" fill="#D8D8D8"/><rect x="1771.5" y="1317.5" width="11" height="2.4" fill="#D8D8D8"/><rect x="1771.5" y="1374.3" width="11" height="2.4" fill="#D8D8D8"/><rect x="1771.5" y="1431.1" width="11" height="2.4" fill="#D8D8D8"/><rect x="1771.5" y="1487.9" width="11" height="2.4" fill="#D8D8D8"/><rect x="1771.5" y="1544.7" width="11" height="2.4" fill="#D8D8D8"/><rect x="1771.5" y="1601.6" width="11" height="2.4" fill="#D8D8D8"/><rect x="1771.5" y="1658.4" width="11" height="2.4" fill="#D8D8D8"/><rect x="1771.5" y="1715.2" width="11" height="2.4" fill="#D8D8D8"/><rect x="1771.5" y="1772.0" width="11" height="2.4" fill="#D8D8D8"/><rect x="1771.5" y="1828.8" width="11" height="2.4" fill="#D8D8D8"/><rect x="1771.5" y="1885.7" width="11" height="2.4" fill="#D8D8D8"/><rect x="1771.5" y="1942.5" width="11" height="2.4" fill="#D8D8D8"/><rect x="1771.5" y="1999.3" width="11" height="2.4" fill="#D8D8D8"/><rect x="1771.5" y="2056.1" width="11" height="2.4" fill="#D8D8D8"/><rect x="1771.5" y="2112.9" width="11" height="2.4" fill="#D8D8D8"/><rect x="1771.5" y="2169.8" width="11" height="2.4" fill="#D8D8D8"/><rect x="1771.5" y="2226.6" width="11" height="2.4" fill="#D8D8D8"/><rect x="1771.5" y="2283.4" width="11" height="2.4" fill="#D8D8D8"/><rect x="1771.5" y="2340.2" width="11" height="2.4" fill="#D8D8D8"/><rect x="1771.5" y="2397.0" width="11" height="2.4" fill="#D8D8D8"/><rect x="1771.5" y="2453.9" width="11" height="2.4" fill="#D8D8D8"/><rect x="1771.5" y="2510.7" width="11" height="2.4" fill="#D8D8D8"/><rect x="1771.5" y="2567.5" width="11" height="2.4" fill="#D8D8D8"/><rect x="1771.5" y="2624.3" width="11" height="2.4" fill="#D8D8D8"/><rect x="1771.5" y="2681.1" width="11" height="2.4" fill="#D8D8D8"/><rect x="1778" y="2868.9" width="8" height="2.2" fill="#D2D2D2"/><rect x="1778" y="2920.1" width="8" height="2.2" fill="#D2D2D2"/><rect x="1778" y="2971.4" width="8" height="2.2" fill="#D2D2D2"/><rect x="1778" y="3022.6" width="8" height="2.2" fill="#D2D2D2"/><rect x="1778" y="3073.8" width="8" height="2.2" fill="#D2D2D2"/><rect x="1778" y="3125.1" width="8" height="2.2" fill="#D2D2D2"/><rect x="1778" y="3176.3" width="8" height="2.2" fill="#D2D2D2"/><rect x="1778" y="3227.5" width="8" height="2.2" fill="#D2D2D2"/><rect x="1778" y="3278.7" width="8" height="2.2" fill="#D2D2D2"/><rect x="1778" y="3330.0" width="8" height="2.2" fill="#D2D2D2"/><rect x="1778" y="3381.2" width="8" height="2.2" fill="#D2D2D2"/><rect x="1785.2" y="1151.4" width="333.8" height="50.3" fill="#9DC389"/><g transform="translate(1637.5,1176.5) scale(21.6)"><clipPath id="fc1"><circle cx="0" cy="0" r="1"/></clipPath><circle cx="0" cy="0" r="1.05" fill="#fff" opacity="0.85"/><g clip-path="url(#fc1)"><rect x="-1" y="-1" width="2" height="2" fill="#ffffff"/><polygon points="0,-0.6 -0.62,0.4 0.62,0.4" fill="#E8232B"/><line x1="-0.14" y1="-0.62" x2="-0.72" y2="0.30" stroke="#111" stroke-width="0.13"/><line x1="0.14" y1="-0.62" x2="0.72" y2="0.30" stroke="#111" stroke-width="0.13"/><rect x="-0.25" y="0.48" width="0.5" height="0.1" fill="#111"/></g></g><polygon points="1737.0,1147.4 1739.8,1150.8 1743.4,1148.2 1745.2,1152.2 1749.3,1150.7 1750.0,1155.0 1754.4,1154.6 1754.0,1159.0 1758.3,1159.7 1756.8,1163.8 1760.8,1165.6 1758.2,1169.2 1761.6,1172.0 1758.2,1174.8 1760.8,1178.4 1756.8,1180.2 1758.3,1184.3 1754.0,1185.0 1754.4,1189.4 1750.0,1189.0 1749.3,1193.3 1745.2,1191.8 1743.4,1195.8 1739.8,1193.2 1737.0,1196.6 1734.2,1193.2 1730.6,1195.8 1728.8,1191.8 1724.7,1193.3 1724.0,1189.0 1719.6,1189.4 1720.0,1185.0 1715.7,1184.3 1717.2,1180.2 1713.2,1178.4 1715.8,1174.8 1712.4,1172.0 1715.8,1169.2 1713.2,1165.6 1717.2,1163.8 1715.7,1159.7 1720.0,1159.0 1719.6,1154.6 1724.0,1155.0 1724.7,1150.7 1728.8,1152.2 1730.6,1148.2 1734.2,1150.8" fill="#FDB813"/><circle cx="1737" cy="1172.0" r="18.7" fill="#FFD13A" stroke="#F5A100" stroke-width="1.2"/><path d="M1724.7,1165.8 Q1719.8,1180.6 1733.3,1186.8 M1749.3,1165.8 Q1754.2,1180.6 1740.7,1186.8" stroke="#F5A100" stroke-width="2.2" fill="none" opacity="0.7"/><rect x="1785.2" y="1208.2" width="284.6" height="50.3" fill="#9DC389"/><g transform="translate(1637.5,1233.3) scale(21.6)"><clipPath id="fc2"><circle cx="0" cy="0" r="1"/></clipPath><circle cx="0" cy="0" r="1.05" fill="#fff" opacity="0.85"/><g clip-path="url(#fc2)"><rect x="-1.0" y="-1.0" width="2.0" height="0.1638" fill="#111111"/><rect x="-1.0" y="-0.8462" width="2.0" height="0.1638" fill="#ffffff"/><rect x="-1.0" y="-0.6923" width="2.0" height="0.1638" fill="#111111"/><rect x="-1.0" y="-0.5385" width="2.0" height="0.1638" fill="#ffffff"/><rect x="-1.0" y="-0.3846" width="2.0" height="0.1638" fill="#111111"/><rect x="-1.0" y="-0.2308" width="2.0" height="0.1638" fill="#ffffff"/><rect x="-1.0" y="-0.0769" width="2.0" height="0.1638" fill="#111111"/><rect x="-1.0" y="0.0769" width="2.0" height="0.1638" fill="#ffffff"/><rect x="-1.0" y="0.2308" width="2.0" height="0.1638" fill="#111111"/><rect x="-1.0" y="0.3846" width="2.0" height="0.1638" fill="#ffffff"/><rect x="-1.0" y="0.5385" width="2.0" height="0.1638" fill="#111111"/><rect x="-1.0" y="0.6923" width="2.0" height="0.1638" fill="#ffffff"/><rect x="-1.0" y="0.8462" width="2.0" height="0.1638" fill="#111111"/><rect x="-1" y="-1" width="1.1" height="0.72" fill="#DA251D"/><circle cx="-0.42" cy="-0.66" r="0.25" fill="#ffffff" /><circle cx="-0.42" cy="-0.66" r="0.15" fill="#2447B2" /><polygon points="-0.050,-0.980 -0.031,-0.926 0.026,-0.925 -0.020,-0.890 -0.003,-0.835 -0.050,-0.868 -0.097,-0.835 -0.080,-0.890 -0.126,-0.925 -0.069,-0.926" fill="#F9DC16"/><polygon points="-0.050,-0.480 -0.031,-0.426 0.026,-0.425 -0.020,-0.390 -0.003,-0.335 -0.050,-0.368 -0.097,-0.335 -0.080,-0.390 -0.126,-0.425 -0.069,-0.426" fill="#F9DC16"/><polygon points="-0.850,-0.480 -0.831,-0.426 -0.774,-0.425 -0.820,-0.390 -0.803,-0.335 -0.850,-0.368 -0.897,-0.335 -0.880,-0.390 -0.926,-0.425 -0.869,-0.426" fill="#F9DC16"/></g></g><polygon points="1737.0,1204.2 1739.8,1207.6 1743.4,1205.1 1745.2,1209.0 1749.3,1207.5 1750.0,1211.8 1754.4,1211.4 1754.0,1215.8 1758.3,1216.5 1756.8,1220.6 1760.8,1222.5 1758.2,1226.0 1761.6,1228.8 1758.2,1231.6 1760.8,1235.2 1756.8,1237.0 1758.3,1241.1 1754.0,1241.8 1754.4,1246.2 1750.0,1245.8 1749.3,1250.1 1745.2,1248.6 1743.4,1252.6 1739.8,1250.0 1737.0,1253.4 1734.2,1250.0 1730.6,1252.6 1728.8,1248.6 1724.7,1250.1 1724.0,1245.8 1719.6,1246.2 1720.0,1241.8 1715.7,1241.1 1717.2,1237.0 1713.2,1235.2 1715.8,1231.6 1712.4,1228.8 1715.8,1226.0 1713.2,1222.5 1717.2,1220.6 1715.7,1216.5 1720.0,1215.8 1719.6,1211.4 1724.0,1211.8 1724.7,1207.5 1728.8,1209.0 1730.6,1205.1 1734.2,1207.6" fill="#9B9B9B"/><circle cx="1737" cy="1228.82" r="18.7" fill="#B2B2B2" stroke="#868686" stroke-width="1.2"/><path d="M1724.7,1222.7 Q1719.8,1237.4 1733.3,1243.6 M1749.3,1222.7 Q1754.2,1237.4 1740.7,1243.6" stroke="#868686" stroke-width="2.2" fill="none" opacity="0.7"/><rect x="1785.2" y="1265.0" width="241.3" height="50.3" fill="#9DC389"/><g transform="translate(1637.5,1290.1) scale(21.6)"><clipPath id="fc3"><circle cx="0" cy="0" r="1"/></clipPath><circle cx="0" cy="0" r="1.05" fill="#fff" opacity="0.85"/><g clip-path="url(#fc3)"><rect x="-1" y="-1" width="2" height="2" fill="#E3231F"/><polygon points="-1,-1 1,-1 1,-0.75 -1,0.15" fill="#1E9E48"/><polygon points="1,1 -1,1 -1,0.75 1,-0.15" fill="#FAE11B"/><ellipse cx="0" cy="0.05" rx="0.42" ry="0.5" fill="#fff"/><ellipse cx="0" cy="0.05" rx="0.27" ry="0.36" fill="#3b3a36"/><ellipse cx="0" cy="0.02" rx="0.12" ry="0.16" fill="#c23b2e"/></g></g><polygon points="1737.0,1261.0 1739.8,1264.4 1743.4,1261.9 1745.2,1265.9 1749.3,1264.3 1750.0,1268.7 1754.4,1268.2 1754.0,1272.6 1758.3,1273.3 1756.8,1277.4 1760.8,1279.3 1758.2,1282.8 1761.6,1285.6 1758.2,1288.4 1760.8,1292.0 1756.8,1293.8 1758.3,1297.9 1754.0,1298.7 1754.4,1303.0 1750.0,1302.6 1749.3,1306.9 1745.2,1305.4 1743.4,1309.4 1739.8,1306.9 1737.0,1310.2 1734.2,1306.9 1730.6,1309.4 1728.8,1305.4 1724.7,1306.9 1724.0,1302.6 1719.6,1303.0 1720.0,1298.7 1715.7,1297.9 1717.2,1293.8 1713.2,1292.0 1715.8,1288.4 1712.4,1285.6 1715.8,1282.8 1713.2,1279.3 1717.2,1277.4 1715.7,1273.3 1720.0,1272.6 1719.6,1268.2 1724.0,1268.7 1724.7,1264.3 1728.8,1265.9 1730.6,1261.9 1734.2,1264.4" fill="#C3531E"/><circle cx="1737" cy="1285.64" r="18.7" fill="#CC6230" stroke="#A84414" stroke-width="1.2"/><path d="M1724.7,1279.5 Q1719.8,1294.2 1733.3,1300.4 M1749.3,1279.5 Q1754.2,1294.2 1740.7,1300.4" stroke="#A84414" stroke-width="2.2" fill="none" opacity="0.7"/><rect x="1785.2" y="1321.9" width="132.3" height="50.3" fill="#9DC389"/><g transform="translate(1637.5,1347.0) scale(21.6)"><clipPath id="fc4"><circle cx="0" cy="0" r="1"/></clipPath><circle cx="0" cy="0" r="1.05" fill="#fff" opacity="0.85"/><g clip-path="url(#fc4)"><rect x="-1" y="-1" width="2" height="2" fill="#2A2773"/><polygon points="-0.98,0 0,-0.7 0.98,0 0,0.7" fill="#ffffff"/><circle cx="0" cy="0" r="0.5" fill="#1E9E48" /><polygon points="0.000,-0.430 0.106,-0.126 0.428,-0.119 0.171,0.076 0.265,0.384 0.000,0.200 -0.265,0.384 -0.171,0.076 -0.428,-0.119 -0.106,-0.126" fill="#F9C70E"/></g></g><rect x="1785.2" y="1378.7" width="116.0" height="50.3" fill="#9DC389"/><g transform="translate(1637.5,1403.8) scale(21.6)"><clipPath id="fc5"><circle cx="0" cy="0" r="1"/></clipPath><circle cx="0" cy="0" r="1.05" fill="#fff" opacity="0.85"/><g clip-path="url(#fc5)"><rect x="-1.0" y="-1.0" width="2.0" height="0.6767" fill="#E8352E"/><rect x="-1.0" y="-0.3333" width="2.0" height="0.6767" fill="#ffffff"/><rect x="-1.0" y="0.3333" width="2.0" height="0.6767" fill="#E8352E"/><polygon points="-0.95,0 0,-0.62 0.95,0 0,0.62" fill="#8CC63F"/><circle cx="0" cy="0" r="0.28" fill="#f3f0e8" /><polygon points="0.000,-0.240 0.056,-0.078 0.228,-0.074 0.091,0.030 0.141,0.194 0.000,0.096 -0.141,0.194 -0.091,0.030 -0.228,-0.074 -0.056,-0.078" fill="#D9352B"/><circle cx="0" cy="0" r="0.09" fill="#ffffff" /></g></g><rect x="1785.2" y="1435.5" width="115.8" height="50.3" fill="#9DC389"/><g transform="translate(1637.5,1460.6) scale(21.6)"><clipPath id="fc6"><circle cx="0" cy="0" r="1"/></clipPath><circle cx="0" cy="0" r="1.05" fill="#fff" opacity="0.85"/><g clip-path="url(#fc6)"><rect x="-1" y="-1" width="2" height="2" fill="#ffffff"/><rect x="-1.6" y="-0.870" width="3.2" height="0.3" fill="#1E9E48" transform="rotate(38)"/><rect x="-1.6" y="0.570" width="3.2" height="0.3" fill="#1E9E48" transform="rotate(38)"/><path d="M-0.62,-0.1 Q-0.7,0.5 -0.1,0.62 M0.62,-0.1 Q0.7,0.5 0.1,0.62" stroke="#1E8C3E" stroke-width="0.14" fill="none"/><circle cx="0" cy="0" r="0.4" fill="#2447B2" /><path d="M-0.38,-0.08 Q0,-0.2 0.38,0.02" stroke="#cfe3a0" stroke-width="0.07" fill="none"/></g></g><rect x="1785.2" y="1492.3" width="102.5" height="50.3" fill="#9DC389"/><g transform="translate(1637.5,1517.4) scale(21.6)"><clipPath id="fc7"><circle cx="0" cy="0" r="1"/></clipPath><circle cx="0" cy="0" r="1.05" fill="#fff" opacity="0.85"/><g clip-path="url(#fc7)"><rect x="-1.0" y="-1.0" width="2.0" height="0.26" fill="#1E9E48"/><rect x="-1.0" y="-0.75" width="2.0" height="0.26" fill="#F9DC16"/><rect x="-1.0" y="-0.5" width="2.0" height="0.26" fill="#1E9E48"/><rect x="-1.0" y="-0.25" width="2.0" height="0.26" fill="#F9DC16"/><rect x="-1.0" y="0.0" width="2.0" height="0.26" fill="#1E9E48"/><rect x="-1.0" y="0.25" width="2.0" height="0.26" fill="#F9DC16"/><rect x="-1.0" y="0.5" width="2.0" height="0.26" fill="#1E9E48"/><rect x="-1.0" y="0.75" width="2.0" height="0.26" fill="#F9DC16"/><rect x="-1" y="-1" width="1.05" height="0.76" fill="#1F3A93"/><polygon points="-0.750,-0.580 -0.719,-0.492 -0.626,-0.490 -0.701,-0.434 -0.674,-0.345 -0.750,-0.398 -0.826,-0.345 -0.799,-0.434 -0.874,-0.490 -0.781,-0.492" fill="#ffffff"/><polygon points="-0.500,-0.850 -0.469,-0.762 -0.376,-0.760 -0.451,-0.704 -0.424,-0.615 -0.500,-0.668 -0.576,-0.615 -0.549,-0.704 -0.624,-0.760 -0.531,-0.762" fill="#ffffff"/><polygon points="-0.200,-0.980 -0.169,-0.892 -0.076,-0.890 -0.151,-0.834 -0.124,-0.745 -0.200,-0.798 -0.276,-0.745 -0.249,-0.834 -0.324,-0.890 -0.231,-0.892" fill="#ffffff"/><polygon points="-0.200,-0.580 -0.169,-0.492 -0.076,-0.490 -0.151,-0.434 -0.124,-0.345 -0.200,-0.398 -0.276,-0.345 -0.249,-0.434 -0.324,-0.490 -0.231,-0.492" fill="#ffffff"/></g></g><rect x="1785.2" y="1549.1" width="93.5" height="50.3" fill="#9DC389"/><g transform="translate(1637.5,1574.2) scale(21.6)"><clipPath id="fc8"><circle cx="0" cy="0" r="1"/></clipPath><circle cx="0" cy="0" r="1.05" fill="#fff" opacity="0.85"/><g clip-path="url(#fc8)"><rect x="-1" y="-1" width="2" height="2" fill="#ffffff"/><rect x="0" y="-1" width="1" height="1" fill="#38A9E4"/><rect x="-1" y="0" width="1" height="1" fill="#38A9E4"/><ellipse cx="0" cy="0" rx="0.42" ry="0.5" fill="#8a8f7a"/><ellipse cx="0" cy="0" rx="0.3" ry="0.38" fill="#d9d2c0"/><ellipse cx="0" cy="-0.05" rx="0.2" ry="0.16" fill="#c0392b"/><ellipse cx="0" cy="0.16" rx="0.2" ry="0.12" fill="#3b8f4a"/></g></g><rect x="1785.2" y="1606.0" width="92.1" height="50.3" fill="#9DC389"/><g transform="translate(1637.5,1631.1) scale(21.6)"><clipPath id="fc9"><circle cx="0" cy="0" r="1"/></clipPath><circle cx="0" cy="0" r="1.05" fill="#fff" opacity="0.85"/><g clip-path="url(#fc9)"><rect x="-1.0" y="-1.0" width="2.0" height="0.51" fill="#ffffff"/><rect x="-1.0" y="-0.5" width="2.0" height="0.51" fill="#D9261C"/><rect x="-1.0" y="0.0" width="2.0" height="0.51" fill="#ffffff"/><rect x="-1.0" y="0.5" width="2.0" height="0.51" fill="#D9261C"/><rect x="-1" y="-1" width="1.0" height="1.0" fill="#24338C"/><polygon points="-0.55,-0.85 -0.95,-0.1 -0.15,-0.1" fill="#ffffff"/></g></g><rect x="1785.2" y="1662.8" width="73.5" height="50.3" fill="#9DC389"/><g transform="translate(1637.5,1687.9) scale(21.6)"><clipPath id="fc10"><circle cx="0" cy="0" r="1"/></clipPath><circle cx="0" cy="0" r="1.05" fill="#fff" opacity="0.85"/><g clip-path="url(#fc10)"><rect x="-1" y="-1" width="2" height="2" fill="#1E9E48"/><polygon points="-0.97,0 0,-0.72 0.97,0 0,0.72" fill="#F9DC16"/><circle cx="0" cy="0" r="0.42" fill="#ffffff" /><path d="M-0.2,-0.25 L0.2,-0.25 L0.2,0.1 Q0.2,0.3 0,0.36 Q-0.2,0.3 -0.2,0.1 Z" fill="#2E8B57"/><rect x="-0.15" y="-0.4" width="0.3" height="0.1" fill="#9b8a5a"/></g></g><rect x="1785.2" y="1719.6" width="73.1" height="50.3" fill="#9DC389"/><g transform="translate(1637.5,1744.7) scale(21.6)"><clipPath id="fc11"><circle cx="0" cy="0" r="1"/></clipPath><circle cx="0" cy="0" r="1.05" fill="#fff" opacity="0.85"/><g clip-path="url(#fc11)"><rect x="-1" y="-1" width="2" height="2" fill="#6B98D6"/><polygon points="-1,-1 0.45,-1 -1,0.55" fill="#1E9E48"/><polygon points="0.1,-1 0.62,-1 -1,0.75 -1,0.2" fill="#ffffff"/><polygon points="0.400,0.120 0.471,0.323 0.685,0.327 0.514,0.457 0.576,0.663 0.400,0.540 0.224,0.663 0.286,0.457 0.115,0.327 0.329,0.323" fill="#F9DC16"/></g></g><rect x="1785.2" y="1776.4" width="67.6" height="50.3" fill="#9DC389"/><g transform="translate(1637.5,1801.5) scale(21.6)"><clipPath id="fc12"><circle cx="0" cy="0" r="1"/></clipPath><circle cx="0" cy="0" r="1.05" fill="#fff" opacity="0.85"/><g clip-path="url(#fc12)"><rect x="-1" y="-1" width="2" height="1.2" fill="#232A78"/><rect x="-1" y="0.18" width="2" height="0.82" fill="#ffffff"/><path d="M-0.95,-0.3 Q0,-1.25 0.95,-0.3" stroke="#E3231F" stroke-width="0.09" fill="none"/><path d="M-0.93,-0.2 Q0,-1.15 0.93,-0.2" stroke="#F9DC16" stroke-width="0.09" fill="none"/><path d="M-0.9,-0.1 Q0,-1.05 0.9,-0.1" stroke="#1E9E48" stroke-width="0.09" fill="none"/><circle cx="0" cy="-0.22" r="0.2" fill="#F9DC16" /><polygon points="0.000,-0.520 0.106,-0.366 0.285,-0.313 0.171,-0.164 0.176,0.023 0.000,-0.040 -0.176,0.023 -0.171,-0.164 -0.285,-0.313 -0.106,-0.366" fill="#F9DC16"/><rect x="-0.035" y="0.3" width="0.07" height="0.5" fill="#E3231F"/><rect x="-0.2" y="0.42" width="0.4" height="0.07" fill="#E3231F"/></g></g><rect x="1785.2" y="1833.2" width="64.1" height="50.3" fill="#9DC389"/><g transform="translate(1637.5,1858.3) scale(21.6)"><clipPath id="fc13"><circle cx="0" cy="0" r="1"/></clipPath><circle cx="0" cy="0" r="1.05" fill="#fff" opacity="0.85"/><g clip-path="url(#fc13)"><rect x="-1" y="-1" width="2" height="2" fill="#E8231F"/><rect x="-1.6" y="-0.275" width="3.2" height="0.55" fill="#ffffff" transform="rotate(30)"/><polygon points="0.000,-0.300 0.071,-0.097 0.285,-0.093 0.114,0.037 0.176,0.243 0.000,0.120 -0.176,0.243 -0.114,0.037 -0.285,-0.093 -0.071,-0.097" fill="#2A6EBB"/></g></g><rect x="1785.2" y="1890.1" width="52.6" height="50.3" fill="#9DC389"/><g transform="translate(1637.5,1915.2) scale(21.6)"><clipPath id="fc14"><circle cx="0" cy="0" r="1"/></clipPath><circle cx="0" cy="0" r="1.05" fill="#fff" opacity="0.85"/><g clip-path="url(#fc14)"><rect x="-1.0" y="-1.0" width="2.0" height="0.2322" fill="#E3231F"/><rect x="-1.0" y="-0.7778" width="2.0" height="0.2322" fill="#ffffff"/><rect x="-1.0" y="-0.5556" width="2.0" height="0.2322" fill="#111111"/><rect x="-1.0" y="-0.3333" width="2.0" height="0.2322" fill="#ffffff"/><rect x="-1.0" y="-0.1111" width="2.0" height="0.2322" fill="#E3231F"/><rect x="-1.0" y="0.1111" width="2.0" height="0.2322" fill="#ffffff"/><rect x="-1.0" y="0.3333" width="2.0" height="0.2322" fill="#111111"/><rect x="-1.0" y="0.5556" width="2.0" height="0.2322" fill="#ffffff"/><rect x="-1.0" y="0.7778" width="2.0" height="0.2322" fill="#E3231F"/><rect x="-1" y="-1" width="1.0" height="1.1" fill="#24338C"/><polygon points="-0.550,-0.800 -0.479,-0.597 -0.265,-0.593 -0.436,-0.463 -0.374,-0.257 -0.550,-0.380 -0.726,-0.257 -0.664,-0.463 -0.835,-0.593 -0.621,-0.597" fill="#ffffff"/></g></g><rect x="1785.2" y="1946.9" width="48.3" height="50.3" fill="#9DC389"/><g transform="translate(1637.5,1972.0) scale(21.6)"><clipPath id="fc15"><circle cx="0" cy="0" r="1"/></clipPath><circle cx="0" cy="0" r="1.05" fill="#fff" opacity="0.85"/><g clip-path="url(#fc15)"><rect x="-1" y="-1" width="2" height="1.05" fill="#1E9E48"/><rect x="-1" y="0.05" width="2" height="0.95" fill="#ffffff"/><rect x="-0.5" y="-0.45" width="1" height="1" rx="0.08" fill="#F9DC16"/><rect x="-0.25" y="-0.25" width="0.5" height="0.3" fill="#5DA9E0"/><rect x="-0.25" y="0.05" width="0.5" height="0.25" fill="#1E8C3E"/><rect x="-0.42" y="-0.2" width="0.1" height="0.5" fill="#1E6B3E"/><rect x="0.32" y="-0.2" width="0.1" height="0.5" fill="#1E6B3E"/></g></g><rect x="1785.2" y="2003.7" width="44.3" height="50.3" fill="#9DC389"/><g transform="translate(1637.5,2028.8) scale(21.6)"><clipPath id="fc16"><circle cx="0" cy="0" r="1"/></clipPath><circle cx="0" cy="0" r="1.05" fill="#fff" opacity="0.85"/><g clip-path="url(#fc16)"><rect x="-1.0" y="-1.0" width="2.0" height="0.6767" fill="#3D9FE0"/><rect x="-1.0" y="-0.3333" width="2.0" height="0.6767" fill="#ffffff"/><rect x="-1.0" y="0.3333" width="2.0" height="0.6767" fill="#F49AC1"/><text x="0" y="0.09" font-family="Liberation Sans, sans-serif" font-weight="700" font-size="0.2" fill="#2A6EBB" text-anchor="middle" textLength="1.7" lengthAdjust="spacingAndGlyphs">TRABALHA E CONFIA</text></g></g><rect x="1785.2" y="2060.5" width="41.3" height="50.3" fill="#9DC389"/><g transform="translate(1637.5,2085.6) scale(21.6)"><clipPath id="fc17"><circle cx="0" cy="0" r="1"/></clipPath><circle cx="0" cy="0" r="1.05" fill="#fff" opacity="0.85"/><g clip-path="url(#fc17)"><rect x="-1.0" y="-1.0" width="2.0" height="0.1638" fill="#1E9E48"/><rect x="-1.0" y="-0.8462" width="2.0" height="0.1638" fill="#F9DC16"/><rect x="-1.0" y="-0.6923" width="2.0" height="0.1638" fill="#1E9E48"/><rect x="-1.0" y="-0.5385" width="2.0" height="0.1638" fill="#F9DC16"/><rect x="-1.0" y="-0.3846" width="2.0" height="0.1638" fill="#1E9E48"/><rect x="-1.0" y="-0.2308" width="2.0" height="0.1638" fill="#F9DC16"/><rect x="-1.0" y="-0.0769" width="2.0" height="0.1638" fill="#1E9E48"/><rect x="-1.0" y="0.0769" width="2.0" height="0.1638" fill="#F9DC16"/><rect x="-1.0" y="0.2308" width="2.0" height="0.1638" fill="#1E9E48"/><rect x="-1.0" y="0.3846" width="2.0" height="0.1638" fill="#F9DC16"/><rect x="-1.0" y="0.5385" width="2.0" height="0.1638" fill="#1E9E48"/><rect x="-1.0" y="0.6923" width="2.0" height="0.1638" fill="#F9DC16"/><rect x="-1.0" y="0.8462" width="2.0" height="0.1638" fill="#1E9E48"/><rect x="-1" y="-1" width="1.12" height="0.72" fill="#24338C"/><polygon points="-0.420,-0.920 -0.364,-0.758 -0.192,-0.754 -0.329,-0.650 -0.279,-0.486 -0.420,-0.584 -0.561,-0.486 -0.511,-0.650 -0.648,-0.754 -0.476,-0.758" fill="#ffffff"/></g></g><rect x="1785.2" y="2117.3" width="35.2" height="50.3" fill="#9DC389"/><g transform="translate(1637.5,2142.4) scale(21.6)"><clipPath id="fc18"><circle cx="0" cy="0" r="1"/></clipPath><circle cx="0" cy="0" r="1.05" fill="#fff" opacity="0.85"/><g clip-path="url(#fc18)"><rect x="-1" y="-1" width="2" height="2" fill="#E8231F"/><rect x="-1" y="-1" width="0.55" height="2" fill="#111111"/><text x="0.5" y="0.08" font-family="Liberation Sans, sans-serif" font-weight="700" font-size="0.24" fill="#fff" text-anchor="middle">NEGO</text></g></g><rect x="1785.2" y="2174.2" width="28.0" height="50.3" fill="#9DC389"/><g transform="translate(1637.5,2199.3) scale(21.6)"><clipPath id="fc19"><circle cx="0" cy="0" r="1"/></clipPath><circle cx="0" cy="0" r="1.05" fill="#fff" opacity="0.85"/><g clip-path="url(#fc19)"><rect x="-1" y="-1" width="2" height="2" fill="#ffffff"/><polygon points="-1,-1 0.35,-1 -1,-0.02" fill="#2A3FA0"/><polygon points="1,1 -0.35,1 1,0.02" fill="#F7941D"/><polygon points="0.000,-0.620 0.182,-0.251 0.590,-0.192 0.295,0.096 0.364,0.502 0.000,0.310 -0.364,0.502 -0.295,0.096 -0.590,-0.192 -0.182,-0.251" fill="#F7941D"/><polygon points="0.438,-0.438 0.306,-0.048 0.552,0.281 0.141,0.276 -0.097,0.612 -0.219,0.219 -0.612,0.097 -0.276,-0.141 -0.281,-0.552 0.048,-0.306" fill="#F7941D"/><circle cx="0" cy="0" r="0.3" fill="#F7941D" /></g></g><rect x="1785.2" y="2231.0" width="26.5" height="50.3" fill="#9DC389"/><g transform="translate(1637.5,2256.1) scale(21.6)"><clipPath id="fc20"><circle cx="0" cy="0" r="1"/></clipPath><circle cx="0" cy="0" r="1.05" fill="#fff" opacity="0.85"/><g clip-path="url(#fc20)"><rect x="-1" y="-1" width="2" height="2" fill="#ffffff"/><rect x="-0.5" y="-0.5" width="1" height="1" fill="#1E9E48"/><rect x="-0.045" y="-0.45" width="0.09" height="0.9" fill="#F9DC16"/><rect x="-0.45" y="-0.045" width="0.9" height="0.09" fill="#F9DC16"/><polygon points="0,-0.16 0.16,0 0,0.16 -0.16,0" fill="#F9DC16"/><circle cx="0" cy="0" r="0.07" fill="#1E9E48" /></g></g><rect x="1785.2" y="2287.8" width="25.4" height="50.3" fill="#9DC389"/><g transform="translate(1637.5,2312.9) scale(21.6)"><clipPath id="fc21"><circle cx="0" cy="0" r="1"/></clipPath><circle cx="0" cy="0" r="1.05" fill="#fff" opacity="0.85"/><g clip-path="url(#fc21)"><rect x="-1" y="-1" width="2" height="1.15" fill="#232A6E"/><rect x="-1" y="0.15" width="2" height="0.85" fill="#F9DC16"/><polygon points="0,0.2 1,1 -1,1" fill="#1E9E48"/><polygon points="0.000,-0.470 0.099,-0.186 0.399,-0.180 0.160,0.002 0.247,0.290 0.000,0.118 -0.247,0.290 -0.160,0.002 -0.399,-0.180 -0.099,-0.186" fill="#ffffff"/></g></g><rect x="1785.2" y="2344.6" width="21.4" height="50.3" fill="#9DC389"/><g transform="translate(1637.5,2369.7) scale(21.6)"><clipPath id="fc22"><circle cx="0" cy="0" r="1"/></clipPath><circle cx="0" cy="0" r="1.05" fill="#fff" opacity="0.85"/><g clip-path="url(#fc22)"><rect x="-1" y="-1" width="0.52" height="2" fill="#E3231F"/><rect x="-0.48" y="-1" width="0.96" height="2" fill="#ffffff"/><rect x="0.48" y="-1" width="0.52" height="2" fill="#2A7DD2"/><ellipse cx="0" cy="0.05" rx="0.38" ry="0.4" fill="#3d5a3a"/><rect x="-0.2" y="-0.15" width="0.4" height="0.2" fill="#c0392b"/><rect x="-0.2" y="0.05" width="0.4" height="0.18" fill="#7fb2e5"/><polygon points="0.000,-0.550 0.031,-0.462 0.124,-0.460 0.049,-0.404 0.076,-0.315 0.000,-0.368 -0.076,-0.315 -0.049,-0.404 -0.124,-0.460 -0.031,-0.462" fill="#444"/></g></g><rect x="1785.2" y="2401.4" width="13.4" height="50.3" fill="#9DC389"/><g transform="translate(1637.5,2426.5) scale(21.6)"><clipPath id="fc23"><circle cx="0" cy="0" r="1"/></clipPath><circle cx="0" cy="0" r="1.05" fill="#fff" opacity="0.85"/><g clip-path="url(#fc23)"><rect x="-1.0" y="-1.0" width="2.0" height="0.51" fill="#1E9E48"/><rect x="-1.0" y="-0.5" width="2.0" height="0.51" fill="#F9C70E"/><rect x="-1.0" y="0.0" width="2.0" height="0.51" fill="#1E9E48"/><rect x="-1.0" y="0.5" width="2.0" height="0.51" fill="#F9C70E"/><rect x="-1" y="-1" width="1.0" height="1.0" fill="#232A78"/><polygon points="-0.500,-0.750 -0.453,-0.615 -0.310,-0.612 -0.424,-0.525 -0.382,-0.388 -0.500,-0.470 -0.618,-0.388 -0.576,-0.525 -0.690,-0.612 -0.547,-0.615" fill="#ffffff"/><polygon points="-0.150,-0.950 -0.126,-0.882 -0.055,-0.881 -0.112,-0.838 -0.091,-0.769 -0.150,-0.810 -0.209,-0.769 -0.188,-0.838 -0.245,-0.881 -0.174,-0.882" fill="#ffffff"/><polygon points="-0.850,-0.300 -0.826,-0.232 -0.755,-0.231 -0.812,-0.188 -0.791,-0.119 -0.850,-0.160 -0.909,-0.119 -0.888,-0.188 -0.945,-0.231 -0.874,-0.232" fill="#ffffff"/><polygon points="-0.200,-0.300 -0.176,-0.232 -0.105,-0.231 -0.162,-0.188 -0.141,-0.119 -0.200,-0.160 -0.259,-0.119 -0.238,-0.188 -0.295,-0.231 -0.224,-0.232" fill="#ffffff"/></g></g><rect x="1785.2" y="2458.3" width="12.6" height="50.3" fill="#9DC389"/><g transform="translate(1637.5,2483.4) scale(21.6)"><clipPath id="fc24"><circle cx="0" cy="0" r="1"/></clipPath><circle cx="0" cy="0" r="1.05" fill="#fff" opacity="0.85"/><g clip-path="url(#fc24)"><rect x="-1" y="-1" width="2" height="2" fill="#ffffff"/><rect x="-1" y="-0.33" width="2" height="0.62" fill="#D9161C"/><rect x="-1" y="-1" width="1.15" height="0.67" fill="#232A78"/><circle cx="-0.85" cy="-0.88" r="0.04" fill="#ffffff" /><circle cx="-0.85" cy="-0.72" r="0.04" fill="#ffffff" /><circle cx="-0.85" cy="-0.56" r="0.04" fill="#ffffff" /><circle cx="-0.85" cy="-0.4" r="0.04" fill="#ffffff" /><circle cx="-0.68" cy="-0.88" r="0.04" fill="#ffffff" /><circle cx="-0.68" cy="-0.72" r="0.04" fill="#ffffff" /><circle cx="-0.68" cy="-0.56" r="0.04" fill="#ffffff" /><circle cx="-0.68" cy="-0.4" r="0.04" fill="#ffffff" /><circle cx="-0.51" cy="-0.88" r="0.04" fill="#ffffff" /><circle cx="-0.51" cy="-0.72" r="0.04" fill="#ffffff" /><circle cx="-0.51" cy="-0.56" r="0.04" fill="#ffffff" /><circle cx="-0.51" cy="-0.4" r="0.04" fill="#ffffff" /><circle cx="-0.34" cy="-0.88" r="0.04" fill="#ffffff" /><circle cx="-0.34" cy="-0.72" r="0.04" fill="#ffffff" /><circle cx="-0.34" cy="-0.56" r="0.04" fill="#ffffff" /><circle cx="-0.34" cy="-0.4" r="0.04" fill="#ffffff" /><circle cx="-0.17" cy="-0.88" r="0.04" fill="#ffffff" /><circle cx="-0.17" cy="-0.72" r="0.04" fill="#ffffff" /><circle cx="-0.17" cy="-0.56" r="0.04" fill="#ffffff" /><circle cx="-0.17" cy="-0.4" r="0.04" fill="#ffffff" /><circle cx="0.0" cy="-0.88" r="0.04" fill="#ffffff" /><circle cx="0.0" cy="-0.72" r="0.04" fill="#ffffff" /><circle cx="0.0" cy="-0.56" r="0.04" fill="#ffffff" /><circle cx="0.0" cy="-0.4" r="0.04" fill="#ffffff" /></g></g><rect x="1785.2" y="2515.1" width="6.1" height="50.3" fill="#9DC389"/><g transform="translate(1637.5,2540.2) scale(21.6)"><clipPath id="fc25"><circle cx="0" cy="0" r="1"/></clipPath><circle cx="0" cy="0" r="1.05" fill="#fff" opacity="0.85"/><g clip-path="url(#fc25)"><rect x="-1" y="-1" width="2" height="2" fill="#F4E21C"/><polygon points="1,-0.55 1,1 -1,1 -1,0.55" fill="#1E9E48"/><polygon points="-0.320,-0.830 -0.285,-0.729 -0.177,-0.726 -0.263,-0.661 -0.232,-0.559 -0.320,-0.620 -0.408,-0.559 -0.377,-0.661 -0.463,-0.726 -0.355,-0.729" fill="#E3231F"/></g></g><rect x="1785.2" y="2571.9" width="3.4" height="50.3" fill="#9DC389"/><g transform="translate(1637.5,2597.0) scale(21.6)"><clipPath id="fc26"><circle cx="0" cy="0" r="1"/></clipPath><circle cx="0" cy="0" r="1.05" fill="#fff" opacity="0.85"/><g clip-path="url(#fc26)"><rect x="-1" y="-1" width="2" height="2" fill="#ffffff"/><polygon points="-1,-1 0.35,-1 -1,0.1" fill="#5AA9E6"/><polygon points="1,1 -0.6,1 1,-0.35" fill="#1E9E48"/><polygon points="0.000,-0.670 0.146,-0.251 0.590,-0.242 0.236,0.027 0.364,0.452 0.000,0.198 -0.364,0.452 -0.236,0.027 -0.590,-0.242 -0.146,-0.251" fill="#F9C70E"/><rect x="-0.8" y="0.56" width="1.6" height="0.07" fill="#E3231F"/></g></g><rect x="1785.2" y="2628.7" width="3.0" height="50.3" fill="#9DC389"/><g transform="translate(1637.5,2653.8) scale(21.6)"><clipPath id="fc27"><circle cx="0" cy="0" r="1"/></clipPath><circle cx="0" cy="0" r="1.05" fill="#fff" opacity="0.85"/><g clip-path="url(#fc27)"><rect x="-1" y="-1" width="2" height="2" fill="#1E9E48"/><polygon points="-1,-1 1,-1 1,-0.42 -0.35,-0.42 -0.75,-0.78" fill="#232A6E"/><polygon points="-1,1 1,1 1,0.42 -0.35,0.42 -0.75,0.78" fill="#F4E21C"/><path d="M-0.85,-0.82 L-0.38,-0.4 L1,-0.4 M-0.85,0.82 L-0.38,0.4 L1,0.4" stroke="#111" stroke-width="0.1" fill="none"/><path d="M-0.85,-0.74 L-0.4,-0.33 L1,-0.33 M-0.85,0.74 L-0.4,0.33 L1,0.33" stroke="#fff" stroke-width="0.04" fill="none"/><polygon points="-0.479,-0.141 -0.521,-0.016 -0.442,0.091 -0.575,0.089 -0.651,0.198 -0.691,0.071 -0.818,0.031 -0.709,-0.045 -0.711,-0.178 -0.604,-0.099" fill="#4a5a3a"/></g></g><rect x="1792.3" y="2872.7" width="392.0" height="44.5" fill="#9DC389"/><g transform="translate(1637.8,2891.2) scale(21.3)"><clipPath id="fc28"><circle cx="0" cy="0" r="1"/></clipPath><circle cx="0" cy="0" r="1.05" fill="#fff" opacity="0.85"/><g clip-path="url(#fc28)"><rect x="-1" y="-1" width="2" height="2" fill="#ffffff"/><rect x="-1" y="-1" width="2" height="0.24" fill="#E3231F"/><rect x="-1" y="0.78" width="2" height="0.22" fill="#E3231F"/><rect x="-0.42" y="-0.7" width="0.84" height="0.3" fill="#3a2a1a"/><path d="M-0.36,-0.42 L0.36,-0.42 L0.36,0.2 Q0.36,0.42 0,0.48 Q-0.36,0.42 -0.36,0.2 Z" fill="#2A7DD2"/><circle cx="0" cy="0" r="0.17" fill="#F9C70E" /><path d="M-0.34,0.2 Q0,0.05 0.34,0.2 L0.34,0.3 Q0,0.5 -0.34,0.3Z" fill="#e9f1fa"/><path d="M-0.75,0.6 Q0,0.45 0.75,0.6" stroke="#2A6EBB" stroke-width="0.1" fill="none"/></g></g><polygon points="1728.5,2864.4 1731.2,2867.7 1734.7,2865.2 1736.5,2869.1 1740.5,2867.6 1741.2,2871.8 1745.5,2871.4 1745.1,2875.7 1749.3,2876.4 1747.8,2880.4 1751.7,2882.2 1749.2,2885.7 1752.5,2888.4 1749.2,2891.1 1751.7,2894.6 1747.8,2896.4 1749.3,2900.4 1745.1,2901.1 1745.5,2905.4 1741.2,2905.0 1740.5,2909.2 1736.5,2907.7 1734.7,2911.6 1731.2,2909.1 1728.5,2912.4 1725.8,2909.1 1722.3,2911.6 1720.5,2907.7 1716.5,2909.2 1715.8,2905.0 1711.5,2905.4 1711.9,2901.1 1707.7,2900.4 1709.2,2896.4 1705.3,2894.6 1707.8,2891.1 1704.5,2888.4 1707.8,2885.7 1705.3,2882.2 1709.2,2880.4 1707.7,2876.4 1711.9,2875.7 1711.5,2871.4 1715.8,2871.8 1716.5,2867.6 1720.5,2869.1 1722.3,2865.2 1725.8,2867.7" fill="#FDB813"/><circle cx="1728.5" cy="2888.3999999999996" r="18.2" fill="#FFD13A" stroke="#F5A100" stroke-width="1.2"/><path d="M1716.5,2882.4 Q1711.7,2896.8 1724.9,2902.8 M1740.5,2882.4 Q1745.3,2896.8 1732.1,2902.8" stroke="#F5A100" stroke-width="2.2" fill="none" opacity="0.7"/><rect x="1792.3" y="2924.0" width="269.2" height="44.5" fill="#9DC389"/><g transform="translate(1637.8,2942.5) scale(21.3)"><clipPath id="fc29"><circle cx="0" cy="0" r="1"/></clipPath><circle cx="0" cy="0" r="1.05" fill="#fff" opacity="0.85"/><g clip-path="url(#fc29)"><rect x="-1" y="-1" width="2" height="2" fill="#1E9E48"/><g transform="rotate(0)"><path d="M0,-0.95 L0.1,-0.78 L0.04,-0.78 L0.14,-0.3 L-0.14,-0.3 L-0.04,-0.78 L-0.1,-0.78 Z" fill="#F9C70E"/></g><g transform="rotate(90)"><path d="M0,-0.95 L0.1,-0.78 L0.04,-0.78 L0.14,-0.3 L-0.14,-0.3 L-0.04,-0.78 L-0.1,-0.78 Z" fill="#F9C70E"/></g><g transform="rotate(180)"><path d="M0,-0.95 L0.1,-0.78 L0.04,-0.78 L0.14,-0.3 L-0.14,-0.3 L-0.04,-0.78 L-0.1,-0.78 Z" fill="#F9C70E"/></g><g transform="rotate(270)"><path d="M0,-0.95 L0.1,-0.78 L0.04,-0.78 L0.14,-0.3 L-0.14,-0.3 L-0.04,-0.78 L-0.1,-0.78 Z" fill="#F9C70E"/></g><polygon points="0,-0.3 0.3,0 0,0.3 -0.3,0" fill="#F9C70E"/><polygon points="0,-0.2 0.2,0 0,0.2 -0.2,0" fill="#1E9E48"/></g></g><polygon points="1728.5,2915.7 1731.2,2919.0 1734.7,2916.5 1736.5,2920.4 1740.5,2918.9 1741.2,2923.1 1745.5,2922.7 1745.1,2926.9 1749.3,2927.7 1747.8,2931.7 1751.7,2933.4 1749.2,2936.9 1752.5,2939.7 1749.2,2942.4 1751.7,2945.9 1747.8,2947.7 1749.3,2951.7 1745.1,2952.4 1745.5,2956.6 1741.2,2956.2 1740.5,2960.4 1736.5,2959.0 1734.7,2962.8 1731.2,2960.4 1728.5,2963.7 1725.8,2960.4 1722.3,2962.8 1720.5,2959.0 1716.5,2960.4 1715.8,2956.2 1711.5,2956.6 1711.9,2952.4 1707.7,2951.7 1709.2,2947.7 1705.3,2945.9 1707.8,2942.4 1704.5,2939.7 1707.8,2936.9 1705.3,2933.4 1709.2,2931.7 1707.7,2927.7 1711.9,2926.9 1711.5,2922.7 1715.8,2923.1 1716.5,2918.9 1720.5,2920.4 1722.3,2916.5 1725.8,2919.0" fill="#9B9B9B"/><circle cx="1728.5" cy="2939.66" r="18.2" fill="#B2B2B2" stroke="#868686" stroke-width="1.2"/><path d="M1716.5,2933.7 Q1711.7,2948.1 1724.9,2954.1 M1740.5,2933.7 Q1745.3,2948.1 1732.1,2954.1" stroke="#868686" stroke-width="2.2" fill="none" opacity="0.7"/><rect x="1792.3" y="2975.2" width="231.4" height="44.5" fill="#9DC389"/><g transform="translate(1637.8,2993.7) scale(21.3)"><clipPath id="fc30"><circle cx="0" cy="0" r="1"/></clipPath><circle cx="0" cy="0" r="1.05" fill="#fff" opacity="0.85"/><g clip-path="url(#fc30)"><rect x="-1" y="-1" width="2" height="2" fill="#ffffff"/><rect x="-1" y="-1" width="0.85" height="2" fill="#1E9E48"/><rect x="-0.45" y="-0.4" width="0.6" height="0.75" rx="0.14" fill="#fff" stroke="#F2A51C" stroke-width="0.09"/><polygon points="-0.15,-0.28 0,0.2 -0.3,0.2" fill="#1E9E48"/></g></g><polygon points="1728.5,2966.9 1731.2,2970.2 1734.7,2967.7 1736.5,2971.6 1740.5,2970.1 1741.2,2974.4 1745.5,2973.9 1745.1,2978.2 1749.3,2978.9 1747.8,2982.9 1751.7,2984.7 1749.2,2988.2 1752.5,2990.9 1749.2,2993.6 1751.7,2997.1 1747.8,2998.9 1749.3,3002.9 1745.1,3003.6 1745.5,3007.9 1741.2,3007.5 1740.5,3011.7 1736.5,3010.2 1734.7,3014.1 1731.2,3011.6 1728.5,3014.9 1725.8,3011.6 1722.3,3014.1 1720.5,3010.2 1716.5,3011.7 1715.8,3007.5 1711.5,3007.9 1711.9,3003.6 1707.7,3002.9 1709.2,2998.9 1705.3,2997.1 1707.8,2993.6 1704.5,2990.9 1707.8,2988.2 1705.3,2984.7 1709.2,2982.9 1707.7,2978.9 1711.9,2978.2 1711.5,2973.9 1715.8,2974.4 1716.5,2970.1 1720.5,2971.6 1722.3,2967.7 1725.8,2970.2" fill="#C3531E"/><circle cx="1728.5" cy="2990.9199999999996" r="18.2" fill="#CC6230" stroke="#A84414" stroke-width="1.2"/><path d="M1716.5,2984.9 Q1711.7,2999.3 1724.9,3005.3 M1740.5,2984.9 Q1745.3,2999.3 1732.1,3005.3" stroke="#A84414" stroke-width="2.2" fill="none" opacity="0.7"/><rect x="1792.3" y="3026.5" width="213.5" height="44.5" fill="#9DC389"/><g transform="translate(1637.8,3045.0) scale(21.3)"><clipPath id="fc31"><circle cx="0" cy="0" r="1"/></clipPath><circle cx="0" cy="0" r="1.05" fill="#fff" opacity="0.85"/><g clip-path="url(#fc31)"><rect x="-1" y="-1" width="2" height="2" fill="#ffffff"/><polygon points="-1,-0.6 -0.3,0 -1,0.6" fill="#2447B2"/><polygon points="1,-0.6 0.3,0 1,0.6" fill="#2447B2"/><polygon points="-1,-0.6 -0.7,-0.75 -0.3,0 -0.7,0.75 -1,0.6" fill="#2447B2"/><polygon points="1,-0.6 0.7,-0.75 0.3,0 0.7,0.75 1,0.6" fill="#2447B2"/><path d="M-0.6,0.35 Q0,0.75 0.6,0.35" stroke="#D9261C" stroke-width="0.09" fill="none"/><line x1="-0.45" y1="0.75" x2="0.5" y2="0.2" stroke="#222" stroke-width="0.05"/><line x1="0.45" y1="0.75" x2="-0.5" y2="0.2" stroke="#222" stroke-width="0.05"/><rect x="-0.32" y="-0.42" width="0.64" height="0.75" fill="#eef3fa"/><rect x="-0.2" y="-0.3" width="0.4" height="0.35" fill="#2A6EBB"/><rect x="-0.3" y="0.12" width="0.6" height="0.2" fill="#7fb2e5"/><polygon points="-0.38,-0.45 -0.38,-0.8 -0.2,-0.62 0,-0.85 0.2,-0.62 0.38,-0.8 0.38,-0.45" fill="#E0B422"/></g></g><rect x="1792.3" y="3077.7" width="206.9" height="44.5" fill="#9DC389"/><g transform="translate(1637.8,3096.2) scale(21.3)"><clipPath id="fc32"><circle cx="0" cy="0" r="1"/></clipPath><circle cx="0" cy="0" r="1.05" fill="#fff" opacity="0.85"/><g clip-path="url(#fc32)"><rect x="-1" y="-1" width="2" height="2" fill="#ffffff"/><rect x="-1.6" y="-0.130" width="3.2" height="0.26" fill="#4A9FE0" transform="rotate(35)"/><rect x="-1.6" y="-0.130" width="3.2" height="0.26" fill="#4A9FE0" transform="rotate(-35)"/><path d="M-0.45,-0.45 L0.45,-0.45 L0.5,0.35 Q0.3,0.62 0,0.62 Q-0.3,0.62 -0.5,0.35 Z" fill="#C0261F"/><rect x="-0.4" y="-0.68" width="0.8" height="0.25" fill="#7a1a15"/><circle cx="0" cy="0.05" r="0.2" fill="#d9a0a0" /></g></g><rect x="1792.3" y="3129.0" width="192.4" height="44.5" fill="#9DC389"/><g transform="translate(1637.8,3147.5) scale(21.3)"><clipPath id="fc33"><circle cx="0" cy="0" r="1"/></clipPath><circle cx="0" cy="0" r="1.05" fill="#fff" opacity="0.85"/><g clip-path="url(#fc33)"><rect x="-1" y="-1" width="2" height="2" fill="#ffffff"/><rect x="-1.6" y="-0.120" width="3.2" height="0.24" fill="#3A48A8" transform="rotate(38)"/><rect x="-1.6" y="-0.120" width="3.2" height="0.24" fill="#3A48A8" transform="rotate(-38)"/><path d="M-0.4,-0.4 L0.4,-0.4 L0.4,0.25 Q0,0.55 -0.4,0.25 Z" fill="#4AA3DF"/><rect x="-0.18" y="-0.25" width="0.36" height="0.45" fill="#C9A227"/><path d="M-0.6,-0.1 Q-0.62,0.4 -0.2,0.5 M0.6,-0.1 Q0.62,0.4 0.2,0.5" stroke="#2E8B57" stroke-width="0.13" fill="none"/><path d="M-0.5,0.5 Q0,0.7 0.5,0.5" stroke="#2E9E8B" stroke-width="0.1" fill="none"/></g></g><rect x="1792.3" y="3180.3" width="191.4" height="44.5" fill="#9DC389"/><g transform="translate(1637.8,3198.8) scale(21.3)"><clipPath id="fc34"><circle cx="0" cy="0" r="1"/></clipPath><circle cx="0" cy="0" r="1.05" fill="#fff" opacity="0.85"/><g clip-path="url(#fc34)"><rect x="-1" y="-1" width="2" height="2" fill="#2447B2"/><g transform="rotate(0)"><rect x="-1.1" y="-0.12" width="2.2" height="0.24" fill="#F9DC16"/><rect x="-1.1" y="-0.04" width="2.2" height="0.08" fill="#E3231F"/></g><g transform="rotate(90)"><rect x="-1.1" y="-0.12" width="2.2" height="0.24" fill="#F9DC16"/><rect x="-1.1" y="-0.04" width="2.2" height="0.08" fill="#E3231F"/></g><g transform="rotate(35)"><rect x="-1.1" y="-0.1" width="2.2" height="0.2" fill="#F9DC16"/><rect x="-1.1" y="-0.035" width="2.2" height="0.07" fill="#E3231F"/></g><g transform="rotate(-35)"><rect x="-1.1" y="-0.1" width="2.2" height="0.2" fill="#F9DC16"/><rect x="-1.1" y="-0.035" width="2.2" height="0.07" fill="#E3231F"/></g><rect x="-0.55" y="-0.42" width="1.1" height="0.84" fill="#F9DC16"/><rect x="-0.18" y="-0.2" width="0.36" height="0.42" fill="#2447B2"/><rect x="-0.22" y="-0.38" width="0.44" height="0.16" fill="#f5f5f5"/><path d="M-0.5,0.3 Q0,0.45 0.5,0.3" stroke="#2447B2" stroke-width="0.06" fill="none"/></g></g><rect x="1792.3" y="3231.5" width="175.4" height="44.5" fill="#9DC389"/><g transform="translate(1637.8,3250.0) scale(21.3)"><clipPath id="fc35"><circle cx="0" cy="0" r="1"/></clipPath><circle cx="0" cy="0" r="1.05" fill="#fff" opacity="0.85"/><g clip-path="url(#fc35)"><rect x="-1" y="-1" width="2" height="2" fill="#1E9E48"/><g transform="rotate(0)"><rect x="-1.1" y="-0.08" width="2.2" height="0.16" fill="#ffffff"/><rect x="-1.1" y="-0.03" width="2.2" height="0.06" fill="#E8452F"/></g><g transform="rotate(90)"><rect x="-1.1" y="-0.08" width="2.2" height="0.16" fill="#ffffff"/><rect x="-1.1" y="-0.03" width="2.2" height="0.06" fill="#E8452F"/></g><g transform="rotate(38)"><rect x="-1.1" y="-0.08" width="2.2" height="0.16" fill="#ffffff"/><rect x="-1.1" y="-0.03" width="2.2" height="0.06" fill="#E8452F"/></g><g transform="rotate(-38)"><rect x="-1.1" y="-0.08" width="2.2" height="0.16" fill="#ffffff"/><rect x="-1.1" y="-0.03" width="2.2" height="0.06" fill="#E8452F"/></g><rect x="-0.62" y="-0.45" width="1.24" height="0.9" fill="#ffffff"/><rect x="-0.15" y="-0.2" width="0.3" height="0.42" fill="#2E9E48"/><rect x="-0.38" y="-0.15" width="0.2" height="0.4" fill="#9aa5b1"/><rect x="0.18" y="-0.15" width="0.2" height="0.4" fill="#9aa5b1"/><rect x="-0.25" y="-0.36" width="0.5" height="0.14" fill="#555"/></g></g><rect x="1792.3" y="3282.8" width="164.7" height="44.5" fill="#9DC389"/><g transform="translate(1637.8,3301.3) scale(21.3)"><clipPath id="fc36"><circle cx="0" cy="0" r="1"/></clipPath><circle cx="0" cy="0" r="1.05" fill="#fff" opacity="0.85"/><g clip-path="url(#fc36)"><rect x="-1" y="-1" width="2" height="1.3" fill="#2457B2"/><rect x="-1" y="0.3" width="2" height="0.7" fill="#1E9E48"/><line x1="0" y1="0.3" x2="-0.80" y2="1.69" stroke="#fff" stroke-width="0.055"/><line x1="0" y1="0.3" x2="-1.39" y2="1.10" stroke="#fff" stroke-width="0.055"/><line x1="0" y1="0.3" x2="-1.60" y2="0.30" stroke="#fff" stroke-width="0.055"/><line x1="0" y1="0.3" x2="-1.39" y2="-0.50" stroke="#fff" stroke-width="0.055"/><line x1="0" y1="0.3" x2="-0.80" y2="-1.09" stroke="#fff" stroke-width="0.055"/><line x1="0" y1="0.3" x2="0.00" y2="-1.30" stroke="#fff" stroke-width="0.055"/><line x1="0" y1="0.3" x2="0.80" y2="-1.09" stroke="#fff" stroke-width="0.055"/><line x1="0" y1="0.3" x2="1.39" y2="-0.50" stroke="#fff" stroke-width="0.055"/><line x1="0" y1="0.3" x2="1.60" y2="0.30" stroke="#fff" stroke-width="0.055"/><line x1="0" y1="0.3" x2="1.39" y2="1.10" stroke="#fff" stroke-width="0.055"/><line x1="0" y1="0.3" x2="0.80" y2="1.69" stroke="#fff" stroke-width="0.055"/><line x1="0" y1="0.3" x2="0" y2="1.2" stroke="#fff" stroke-width="0.055"/><circle cx="0" cy="0.3" r="0.16" fill="#F9DC16" /><circle cx="0" cy="0.3" r="0.07" fill="#F2A51C" /></g></g><rect x="1792.3" y="3334.0" width="120.2" height="44.5" fill="#9DC389"/><g transform="translate(1637.8,3352.5) scale(21.3)"><clipPath id="fc37"><circle cx="0" cy="0" r="1"/></clipPath><circle cx="0" cy="0" r="1.05" fill="#fff" opacity="0.85"/><g clip-path="url(#fc37)"><rect x="-1" y="-1" width="2" height="2" fill="#FCF0B8"/><path d="M-0.5,-0.45 L0.5,-0.45 L0.5,0.3 Q0.3,0.8 0,0.85 Q-0.3,0.8 -0.5,0.3 Z" fill="#F2A03C"/><rect x="-0.38" y="-0.35" width="0.34" height="0.5" fill="#2E8B57"/><rect x="0.04" y="-0.35" width="0.34" height="0.5" fill="#5DA9E0"/><path d="M-0.38,0.22 L0.38,0.22 L0.38,0.3 Q0.2,0.66 0,0.7 Q-0.2,0.66 -0.38,0.3 Z" fill="#2E8B57"/><rect x="-0.3" y="0.28" width="0.6" height="0.1" fill="#5DA9E0"/><circle cx="0" cy="-0.68" r="0.2" fill="#F2A03C" /><path d="M-0.7,-0.3 L-0.5,-0.4 M0.7,-0.3 L0.5,-0.4" stroke="#F2A03C" stroke-width="0.1"/></g></g></svg>
<div class="t" style="left:1730.2px;top:1159.0px;font:700 27.0px/1 'Liberation Serif', serif;color:#F08C00;transform:scaleX(1.0000);transform-origin:center ;">1</div>
<div class="t" style="left:1730.2px;top:1215.8px;font:700 27.0px/1 'Liberation Serif', serif;color:#7A7A7A;transform:scaleX(1.0000);transform-origin:center ;">2</div>
<div class="t" style="left:1730.2px;top:1272.6px;font:700 27.0px/1 'Liberation Serif', serif;color:#A44112;transform:scaleX(1.0000);transform-origin:center ;">3</div>
<div class="t" style="left:1721.8px;top:2875.4px;font:700 27.0px/1 'Liberation Serif', serif;color:#F08C00;transform:scaleX(1.0000);transform-origin:center ;">1</div>
<div class="t" style="left:1721.8px;top:2926.7px;font:700 27.0px/1 'Liberation Serif', serif;color:#7A7A7A;transform:scaleX(1.0000);transform-origin:center ;">2</div>
<div class="t" style="left:1721.8px;top:2977.9px;font:700 27.0px/1 'Liberation Serif', serif;color:#A44112;transform:scaleX(1.0000);transform-origin:center ;">3</div>
<div class="t" style="left:1397.5px;top:1159.4px;font:700 32.656px/1 'Liberation Sans', sans-serif;color:#757575;transform:scaleX(0.9658);transform-origin:right ;">Minas Gerais</div>
<div class="t" style="left:1678.2px;top:1158.2px;font:700 32.24px/1 'Liberation Sans', sans-serif;color:#757575;transform:scaleX(1.2500);transform-origin:center ;">|</div>
<div class="t" style="left:2140.3px;top:1162.7px;font:700 30.16px/1 'Liberation Sans', sans-serif;color:#4E7D32;transform:scaleX(0.9949);transform-origin:left ;">2.128,7</div>
<div class="t" style="left:2257.4px;top:1162.7px;font:400 30.16px/1 'Liberation Sans', sans-serif;color:#B8892B;transform:scaleX(0.9450);transform-origin:left ;">15,5%</div>
<div class="t" style="left:1442.9px;top:1216.2px;font:700 32.656px/1 'Liberation Sans', sans-serif;color:#757575;transform:scaleX(0.9390);transform-origin:right ;">São Paulo</div>
<div class="t" style="left:1678.2px;top:1215.0px;font:700 32.24px/1 'Liberation Sans', sans-serif;color:#757575;transform:scaleX(1.2500);transform-origin:center ;">|</div>
<div class="t" style="left:2091.8px;top:1219.5px;font:700 30.16px/1 'Liberation Sans', sans-serif;color:#4E7D32;transform:scaleX(0.9949);transform-origin:left ;">1.814,9</div>
<div class="t" style="left:2205.4px;top:1219.5px;font:400 30.16px/1 'Liberation Sans', sans-serif;color:#B8892B;transform:scaleX(0.9392);transform-origin:left ;">13,2%</div>
<div class="t" style="left:1315.9px;top:1273.0px;font:700 32.656px/1 'Liberation Sans', sans-serif;color:#757575;transform:scaleX(0.9427);transform-origin:right ;">Rio Grande do Sul</div>
<div class="t" style="left:1678.2px;top:1271.8px;font:700 32.24px/1 'Liberation Sans', sans-serif;color:#757575;transform:scaleX(1.2500);transform-origin:center ;">|</div>
<div class="t" style="left:2047.6px;top:1276.3px;font:700 30.16px/1 'Liberation Sans', sans-serif;color:#4E7D32;transform:scaleX(0.9949);transform-origin:left ;">1.539,2</div>
<div class="t" style="left:2158.0px;top:1276.3px;font:400 30.16px/1 'Liberation Sans', sans-serif;color:#B8892B;transform:scaleX(0.9656);transform-origin:left ;">11,2%</div>
<div class="t" style="left:1401.2px;top:1329.8px;font:700 32.656px/1 'Liberation Sans', sans-serif;color:#757575;transform:scaleX(0.9682);transform-origin:right ;">Mato Grosso</div>
<div class="t" style="left:1678.2px;top:1328.7px;font:700 32.24px/1 'Liberation Sans', sans-serif;color:#757575;transform:scaleX(1.2500);transform-origin:center ;">|</div>
<div class="t" style="left:1720.4px;top:1329.8px;font:700 32.656px/1 'Liberation Sans', sans-serif;color:#757575;transform:scaleX(1.1876);transform-origin:right ;">4<span style="position:relative">º<span style="position:absolute;left:6%;right:6%;top:0.50em;height:0.075em;background:currentColor"></span></span></div>
<div class="t" style="left:1936.8px;top:1333.1px;font:700 30.16px/1 'Liberation Sans', sans-serif;color:#4E7D32;transform:scaleX(1.0085);transform-origin:left ;">843,8</div>
<div class="t" style="left:2030.6px;top:1333.1px;font:400 30.16px/1 'Liberation Sans', sans-serif;color:#B8892B;transform:scaleX(0.9588);transform-origin:left ;">6,2%</div>
<div class="t" style="left:1372.1px;top:1386.6px;font:700 32.656px/1 'Liberation Sans', sans-serif;color:#757575;transform:scaleX(0.9622);transform-origin:right ;">Santa Catarina</div>
<div class="t" style="left:1678.2px;top:1385.5px;font:700 32.24px/1 'Liberation Sans', sans-serif;color:#757575;transform:scaleX(1.2500);transform-origin:center ;">|</div>
<div class="t" style="left:1720.4px;top:1386.6px;font:700 32.656px/1 'Liberation Sans', sans-serif;color:#757575;transform:scaleX(1.1876);transform-origin:right ;">5<span style="position:relative">º<span style="position:absolute;left:6%;right:6%;top:0.50em;height:0.075em;background:currentColor"></span></span></div>
<div class="t" style="left:1921.1px;top:1389.9px;font:700 30.16px/1 'Liberation Sans', sans-serif;color:#4E7D32;transform:scaleX(1.0018);transform-origin:left ;">739,7</div>
<div class="t" style="left:2018.1px;top:1389.9px;font:400 30.16px/1 'Liberation Sans', sans-serif;color:#B8892B;transform:scaleX(0.9574);transform-origin:left ;">5,4%</div>
<div class="t" style="left:1491.8px;top:1443.5px;font:700 32.656px/1 'Liberation Sans', sans-serif;color:#757575;transform:scaleX(0.9699);transform-origin:right ;">Paraná</div>
<div class="t" style="left:1678.2px;top:1442.3px;font:700 32.24px/1 'Liberation Sans', sans-serif;color:#757575;transform:scaleX(1.2500);transform-origin:center ;">|</div>
<div class="t" style="left:1720.4px;top:1443.5px;font:700 32.656px/1 'Liberation Sans', sans-serif;color:#757575;transform:scaleX(1.1876);transform-origin:right ;">6<span style="position:relative">º<span style="position:absolute;left:6%;right:6%;top:0.50em;height:0.075em;background:currentColor"></span></span></div>
<div class="t" style="left:1921.1px;top:1446.8px;font:700 30.16px/1 'Liberation Sans', sans-serif;color:#4E7D32;transform:scaleX(1.0018);transform-origin:left ;">738,3</div>
<div class="t" style="left:2018.1px;top:1446.8px;font:400 30.16px/1 'Liberation Sans', sans-serif;color:#B8892B;transform:scaleX(0.9574);transform-origin:left ;">5,4%</div>
<div class="t" style="left:1510.0px;top:1500.3px;font:700 32.656px/1 'Liberation Sans', sans-serif;color:#757575;transform:scaleX(0.9382);transform-origin:right ;">Goiás</div>
<div class="t" style="left:1678.2px;top:1499.1px;font:700 32.24px/1 'Liberation Sans', sans-serif;color:#757575;transform:scaleX(1.2500);transform-origin:center ;">|</div>
<div class="t" style="left:1720.4px;top:1500.3px;font:700 32.656px/1 'Liberation Sans', sans-serif;color:#757575;transform:scaleX(1.1876);transform-origin:right ;">7<span style="position:relative">º<span style="position:absolute;left:6%;right:6%;top:0.50em;height:0.075em;background:currentColor"></span></span></div>
<div class="t" style="left:1907.3px;top:1503.6px;font:700 30.16px/1 'Liberation Sans', sans-serif;color:#4E7D32;transform:scaleX(1.0071);transform-origin:left ;">653,6</div>
<div class="t" style="left:2004.3px;top:1503.6px;font:400 30.16px/1 'Liberation Sans', sans-serif;color:#B8892B;transform:scaleX(0.9574);transform-origin:left ;">4,8%</div>
<div class="t" style="left:1375.7px;top:1557.1px;font:700 32.656px/1 'Liberation Sans', sans-serif;color:#757575;transform:scaleX(0.9392);transform-origin:right ;">Rio de Janeiro</div>
<div class="t" style="left:1678.2px;top:1555.9px;font:700 32.24px/1 'Liberation Sans', sans-serif;color:#757575;transform:scaleX(1.2500);transform-origin:center ;">|</div>
<div class="t" style="left:1720.4px;top:1557.1px;font:700 32.656px/1 'Liberation Sans', sans-serif;color:#757575;transform:scaleX(1.1876);transform-origin:right ;">8<span style="position:relative">º<span style="position:absolute;left:6%;right:6%;top:0.50em;height:0.075em;background:currentColor"></span></span></div>
<div class="t" style="left:1897.8px;top:1560.4px;font:700 30.16px/1 'Liberation Sans', sans-serif;color:#4E7D32;transform:scaleX(1.0018);transform-origin:left ;">596,1</div>
<div class="t" style="left:1994.4px;top:1560.4px;font:400 30.16px/1 'Liberation Sans', sans-serif;color:#B8892B;transform:scaleX(0.9574);transform-origin:left ;">4,3%</div>
<div class="t" style="left:1511.8px;top:1613.9px;font:700 32.656px/1 'Liberation Sans', sans-serif;color:#757575;transform:scaleX(0.9439);transform-origin:right ;">Bahia</div>
<div class="t" style="left:1678.2px;top:1612.8px;font:700 32.24px/1 'Liberation Sans', sans-serif;color:#757575;transform:scaleX(1.2500);transform-origin:center ;">|</div>
<div class="t" style="left:1720.4px;top:1613.9px;font:700 32.656px/1 'Liberation Sans', sans-serif;color:#757575;transform:scaleX(1.1876);transform-origin:right ;">9<span style="position:relative">º<span style="position:absolute;left:6%;right:6%;top:0.50em;height:0.075em;background:currentColor"></span></span></div>
<div class="t" style="left:1896.6px;top:1617.2px;font:700 30.16px/1 'Liberation Sans', sans-serif;color:#4E7D32;transform:scaleX(1.0085);transform-origin:left ;">587,2</div>
<div class="t" style="left:1994.0px;top:1617.2px;font:400 30.16px/1 'Liberation Sans', sans-serif;color:#B8892B;transform:scaleX(0.9574);transform-origin:left ;">4,3%</div>
<div class="t" style="left:1510.0px;top:1670.7px;font:700 32.656px/1 'Liberation Sans', sans-serif;color:#757575;transform:scaleX(0.9775);transform-origin:right ;">Ceará</div>
<div class="t" style="left:1676.2px;top:1669.6px;font:700 32.24px/1 'Liberation Sans', sans-serif;color:#757575;transform:scaleX(1.2500);transform-origin:center ;">|</div>
<div class="t" style="left:1702.2px;top:1670.7px;font:700 32.656px/1 'Liberation Sans', sans-serif;color:#757575;transform:scaleX(1.1074);transform-origin:right ;">10<span style="position:relative">º<span style="position:absolute;left:6%;right:6%;top:0.50em;height:0.075em;background:currentColor"></span></span></div>
<div class="t" style="left:1877.7px;top:1674.0px;font:700 30.16px/1 'Liberation Sans', sans-serif;color:#4E7D32;transform:scaleX(1.0177);transform-origin:left ;">468,8</div>
<div class="t" style="left:1975.5px;top:1674.0px;font:400 30.16px/1 'Liberation Sans', sans-serif;color:#B8892B;transform:scaleX(0.9457);transform-origin:left ;">3,4%</div>
<div class="t" style="left:1292.3px;top:1727.6px;font:700 32.656px/1 'Liberation Sans', sans-serif;color:#757575;transform:scaleX(0.9601);transform-origin:right ;">Mato Grosso do Sul</div>
<div class="t" style="left:1676.2px;top:1726.4px;font:700 32.24px/1 'Liberation Sans', sans-serif;color:#757575;transform:scaleX(1.2500);transform-origin:center ;">|</div>
<div class="t" style="left:1704.0px;top:1727.6px;font:700 32.656px/1 'Liberation Sans', sans-serif;color:#757575;transform:scaleX(1.1504);transform-origin:right ;">11<span style="position:relative">º<span style="position:absolute;left:6%;right:6%;top:0.50em;height:0.075em;background:currentColor"></span></span></div>
<div class="t" style="left:1877.7px;top:1730.9px;font:700 30.16px/1 'Liberation Sans', sans-serif;color:#4E7D32;transform:scaleX(1.0177);transform-origin:left ;">466,0</div>
<div class="t" style="left:1978.2px;top:1730.9px;font:400 30.16px/1 'Liberation Sans', sans-serif;color:#B8892B;transform:scaleX(0.9632);transform-origin:left ;">3,4%</div>
<div class="t" style="left:1403.0px;top:1784.4px;font:700 32.656px/1 'Liberation Sans', sans-serif;color:#757575;transform:scaleX(0.9729);transform-origin:right ;">Pernambuco</div>
<div class="t" style="left:1676.2px;top:1783.2px;font:700 32.24px/1 'Liberation Sans', sans-serif;color:#757575;transform:scaleX(1.2500);transform-origin:center ;">|</div>
<div class="t" style="left:1702.2px;top:1784.4px;font:700 32.656px/1 'Liberation Sans', sans-serif;color:#757575;transform:scaleX(1.1074);transform-origin:right ;">12<span style="position:relative">º<span style="position:absolute;left:6%;right:6%;top:0.50em;height:0.075em;background:currentColor"></span></span></div>
<div class="t" style="left:1871.8px;top:1787.7px;font:700 30.16px/1 'Liberation Sans', sans-serif;color:#4E7D32;transform:scaleX(1.0018);transform-origin:left ;">431,1</div>
<div class="t" style="left:1969.6px;top:1787.7px;font:400 30.16px/1 'Liberation Sans', sans-serif;color:#B8892B;transform:scaleX(0.9399);transform-origin:left ;">3,1%</div>
<div class="t" style="left:1530.0px;top:1841.2px;font:700 32.656px/1 'Liberation Sans', sans-serif;color:#757575;transform:scaleX(0.9904);transform-origin:right ;">Pará</div>
<div class="t" style="left:1676.2px;top:1840.0px;font:700 32.24px/1 'Liberation Sans', sans-serif;color:#757575;transform:scaleX(1.2500);transform-origin:center ;">|</div>
<div class="t" style="left:1702.2px;top:1841.2px;font:700 32.656px/1 'Liberation Sans', sans-serif;color:#757575;transform:scaleX(1.1074);transform-origin:right ;">13<span style="position:relative">º<span style="position:absolute;left:6%;right:6%;top:0.50em;height:0.075em;background:currentColor"></span></span></div>
<div class="t" style="left:1869.0px;top:1844.5px;font:700 30.16px/1 'Liberation Sans', sans-serif;color:#4E7D32;transform:scaleX(0.9979);transform-origin:left ;">408,8</div>
<div class="t" style="left:1966.4px;top:1844.5px;font:400 30.16px/1 'Liberation Sans', sans-serif;color:#B8892B;transform:scaleX(0.9515);transform-origin:left ;">3,0%</div>
<div class="t" style="left:1446.5px;top:1898.0px;font:700 32.656px/1 'Liberation Sans', sans-serif;color:#757575;transform:scaleX(1.0253);transform-origin:right ;">Maranhão</div>
<div class="t" style="left:1676.2px;top:1896.9px;font:700 32.24px/1 'Liberation Sans', sans-serif;color:#757575;transform:scaleX(1.2500);transform-origin:center ;">|</div>
<div class="t" style="left:1702.2px;top:1898.0px;font:700 32.656px/1 'Liberation Sans', sans-serif;color:#757575;transform:scaleX(1.1074);transform-origin:right ;">14<span style="position:relative">º<span style="position:absolute;left:6%;right:6%;top:0.50em;height:0.075em;background:currentColor"></span></span></div>
<div class="t" style="left:1857.2px;top:1901.3px;font:700 30.16px/1 'Liberation Sans', sans-serif;color:#4E7D32;transform:scaleX(1.0018);transform-origin:left ;">335,2</div>
<div class="t" style="left:1954.6px;top:1901.3px;font:400 30.16px/1 'Liberation Sans', sans-serif;color:#B8892B;transform:scaleX(0.9457);transform-origin:left ;">2,5%</div>
<div class="t" style="left:1281.4px;top:1954.8px;font:700 32.656px/1 'Liberation Sans', sans-serif;color:#757575;transform:scaleX(0.9791);transform-origin:right ;">Rio Grande do Norte</div>
<div class="t" style="left:1676.2px;top:1953.7px;font:700 32.24px/1 'Liberation Sans', sans-serif;color:#757575;transform:scaleX(1.2500);transform-origin:center ;">|</div>
<div class="t" style="left:1702.2px;top:1954.8px;font:700 32.656px/1 'Liberation Sans', sans-serif;color:#757575;transform:scaleX(1.1074);transform-origin:right ;">15<span style="position:relative">º<span style="position:absolute;left:6%;right:6%;top:0.50em;height:0.075em;background:currentColor"></span></span></div>
<div class="t" style="left:1853.2px;top:1958.1px;font:700 30.16px/1 'Liberation Sans', sans-serif;color:#4E7D32;transform:scaleX(1.0032);transform-origin:left ;">307,9</div>
<div class="t" style="left:1950.6px;top:1958.1px;font:400 30.16px/1 'Liberation Sans', sans-serif;color:#B8892B;transform:scaleX(0.9457);transform-origin:left ;">2,2%</div>
<div class="t" style="left:1379.4px;top:2011.7px;font:700 32.656px/1 'Liberation Sans', sans-serif;color:#757575;transform:scaleX(0.9547);transform-origin:right ;">Espírito Santo</div>
<div class="t" style="left:1676.2px;top:2010.5px;font:700 32.24px/1 'Liberation Sans', sans-serif;color:#757575;transform:scaleX(1.2500);transform-origin:center ;">|</div>
<div class="t" style="left:1702.2px;top:2011.7px;font:700 32.656px/1 'Liberation Sans', sans-serif;color:#757575;transform:scaleX(1.1074);transform-origin:right ;">16<span style="position:relative">º<span style="position:absolute;left:6%;right:6%;top:0.50em;height:0.075em;background:currentColor"></span></span></div>
<div class="t" style="left:1849.3px;top:2015.0px;font:700 30.16px/1 'Liberation Sans', sans-serif;color:#4E7D32;transform:scaleX(0.9926);transform-origin:left ;">282,7</div>
<div class="t" style="left:1942.7px;top:2015.0px;font:400 30.16px/1 'Liberation Sans', sans-serif;color:#B8892B;transform:scaleX(0.9472);transform-origin:left ;">2,1%</div>
<div class="t" style="left:1522.7px;top:2068.5px;font:700 32.656px/1 'Liberation Sans', sans-serif;color:#757575;transform:scaleX(0.9744);transform-origin:right ;">Piauí</div>
<div class="t" style="left:1676.2px;top:2067.3px;font:700 32.24px/1 'Liberation Sans', sans-serif;color:#757575;transform:scaleX(1.2500);transform-origin:center ;">|</div>
<div class="t" style="left:1702.2px;top:2068.5px;font:700 32.656px/1 'Liberation Sans', sans-serif;color:#757575;transform:scaleX(1.1074);transform-origin:right ;">17<span style="position:relative">º<span style="position:absolute;left:6%;right:6%;top:0.50em;height:0.075em;background:currentColor"></span></span></div>
<div class="t" style="left:1846.1px;top:2071.8px;font:700 30.16px/1 'Liberation Sans', sans-serif;color:#4E7D32;transform:scaleX(0.9926);transform-origin:left ;">263,4</div>
<div class="t" style="left:1943.9px;top:2071.8px;font:400 30.16px/1 'Liberation Sans', sans-serif;color:#B8892B;transform:scaleX(0.9457);transform-origin:left ;">1,9%</div>
<div class="t" style="left:1482.8px;top:2125.3px;font:700 32.656px/1 'Liberation Sans', sans-serif;color:#757575;transform:scaleX(0.9860);transform-origin:right ;">Paraíba</div>
<div class="t" style="left:1676.2px;top:2124.1px;font:700 32.24px/1 'Liberation Sans', sans-serif;color:#757575;transform:scaleX(1.2500);transform-origin:center ;">|</div>
<div class="t" style="left:1702.2px;top:2125.3px;font:700 32.656px/1 'Liberation Sans', sans-serif;color:#757575;transform:scaleX(1.1074);transform-origin:right ;">18<span style="position:relative">º<span style="position:absolute;left:6%;right:6%;top:0.50em;height:0.075em;background:currentColor"></span></span></div>
<div class="t" style="left:1840.2px;top:2128.6px;font:700 30.16px/1 'Liberation Sans', sans-serif;color:#4E7D32;transform:scaleX(0.9926);transform-origin:left ;">224,7</div>
<div class="t" style="left:1934.1px;top:2128.6px;font:400 30.16px/1 'Liberation Sans', sans-serif;color:#B8892B;transform:scaleX(0.9457);transform-origin:left ;">1,6%</div>
<div class="t" style="left:1449.0px;top:2182.1px;font:700 32.656px/1 'Liberation Sans', sans-serif;color:#757575;transform:scaleX(0.9739);transform-origin:right ;">Tocantins</div>
<div class="t" style="left:1676.2px;top:2181.0px;font:700 32.24px/1 'Liberation Sans', sans-serif;color:#757575;transform:scaleX(1.2500);transform-origin:center ;">|</div>
<div class="t" style="left:1702.2px;top:2182.1px;font:700 32.656px/1 'Liberation Sans', sans-serif;color:#757575;transform:scaleX(1.1074);transform-origin:right ;">19<span style="position:relative">º<span style="position:absolute;left:6%;right:6%;top:0.50em;height:0.075em;background:currentColor"></span></span></div>
<div class="t" style="left:1832.3px;top:2185.4px;font:700 30.16px/1 'Liberation Sans', sans-serif;color:#4E7D32;transform:scaleX(1.0032);transform-origin:left ;">178,5</div>
<div class="t" style="left:1923.0px;top:2185.4px;font:400 30.16px/1 'Liberation Sans', sans-serif;color:#B8892B;transform:scaleX(0.9457);transform-origin:left ;">1,3%</div>
<div class="t" style="left:1361.2px;top:2238.9px;font:700 32.656px/1 'Liberation Sans', sans-serif;color:#757575;transform:scaleX(0.9842);transform-origin:right ;">Distrito Federal</div>
<div class="t" style="left:1676.2px;top:2237.8px;font:700 32.24px/1 'Liberation Sans', sans-serif;color:#757575;transform:scaleX(1.2500);transform-origin:center ;">|</div>
<div class="t" style="left:1702.2px;top:2238.9px;font:700 32.656px/1 'Liberation Sans', sans-serif;color:#757575;transform:scaleX(1.1074);transform-origin:right ;">20<span style="position:relative">º<span style="position:absolute;left:6%;right:6%;top:0.50em;height:0.075em;background:currentColor"></span></span></div>
<div class="t" style="left:1831.6px;top:2242.2px;font:700 30.16px/1 'Liberation Sans', sans-serif;color:#4E7D32;transform:scaleX(1.0018);transform-origin:left ;">169,1</div>
<div class="t" style="left:1925.4px;top:2242.2px;font:400 30.16px/1 'Liberation Sans', sans-serif;color:#B8892B;transform:scaleX(0.9399);transform-origin:left ;">1,2%</div>
<div class="t" style="left:1450.2px;top:2295.8px;font:700 32.656px/1 'Liberation Sans', sans-serif;color:#757575;transform:scaleX(0.9713);transform-origin:right ;">Rondônia</div>
<div class="t" style="left:1676.2px;top:2294.6px;font:700 32.24px/1 'Liberation Sans', sans-serif;color:#757575;transform:scaleX(1.2500);transform-origin:center ;">|</div>
<div class="t" style="left:1702.2px;top:2295.8px;font:700 32.656px/1 'Liberation Sans', sans-serif;color:#757575;transform:scaleX(1.1074);transform-origin:right ;">21<span style="position:relative">º<span style="position:absolute;left:6%;right:6%;top:0.50em;height:0.075em;background:currentColor"></span></span></div>
<div class="t" style="left:1830.8px;top:2299.1px;font:700 30.16px/1 'Liberation Sans', sans-serif;color:#4E7D32;transform:scaleX(1.0018);transform-origin:left ;">162,0</div>
<div class="t" style="left:1920.3px;top:2299.1px;font:400 30.16px/1 'Liberation Sans', sans-serif;color:#B8892B;transform:scaleX(0.9457);transform-origin:left ;">1,2%</div>
<div class="t" style="left:1473.7px;top:2352.6px;font:700 32.656px/1 'Liberation Sans', sans-serif;color:#757575;transform:scaleX(0.9496);transform-origin:right ;">Alagoas</div>
<div class="t" style="left:1676.2px;top:2351.4px;font:700 32.24px/1 'Liberation Sans', sans-serif;color:#757575;transform:scaleX(1.2500);transform-origin:center ;">|</div>
<div class="t" style="left:1702.2px;top:2352.6px;font:700 32.656px/1 'Liberation Sans', sans-serif;color:#757575;transform:scaleX(1.1074);transform-origin:right ;">22<span style="position:relative">º<span style="position:absolute;left:6%;right:6%;top:0.50em;height:0.075em;background:currentColor"></span></span></div>
<div class="t" style="left:1826.4px;top:2355.9px;font:700 30.16px/1 'Liberation Sans', sans-serif;color:#4E7D32;transform:scaleX(0.9926);transform-origin:left ;">136,6</div>
<div class="t" style="left:1915.5px;top:2355.9px;font:400 30.16px/1 'Liberation Sans', sans-serif;color:#B8892B;transform:scaleX(0.9515);transform-origin:left ;">1,0%</div>
<div class="t" style="left:1481.0px;top:2409.4px;font:700 32.656px/1 'Liberation Sans', sans-serif;color:#757575;transform:scaleX(0.9579);transform-origin:right ;">Sergipe</div>
<div class="t" style="left:1676.2px;top:2408.2px;font:700 32.24px/1 'Liberation Sans', sans-serif;color:#757575;transform:scaleX(1.2500);transform-origin:center ;">|</div>
<div class="t" style="left:1702.2px;top:2409.4px;font:700 32.656px/1 'Liberation Sans', sans-serif;color:#757575;transform:scaleX(1.1074);transform-origin:right ;">23<span style="position:relative">º<span style="position:absolute;left:6%;right:6%;top:0.50em;height:0.075em;background:currentColor"></span></span></div>
<div class="t" style="left:1817.7px;top:2412.7px;font:700 30.16px/1 'Liberation Sans', sans-serif;color:#4E7D32;transform:scaleX(1.0070);transform-origin:left ;">85,2</div>
<div class="t" style="left:1893.5px;top:2412.7px;font:400 30.16px/1 'Liberation Sans', sans-serif;color:#B8892B;transform:scaleX(0.9457);transform-origin:left ;">0,6%</div>
<div class="t" style="left:1437.4px;top:2466.2px;font:700 32.656px/1 'Liberation Sans', sans-serif;color:#757575;transform:scaleX(0.9682);transform-origin:right ;">Amazonas</div>
<div class="t" style="left:1676.2px;top:2465.1px;font:700 32.24px/1 'Liberation Sans', sans-serif;color:#757575;transform:scaleX(1.2500);transform-origin:center ;">|</div>
<div class="t" style="left:1702.2px;top:2466.2px;font:700 32.656px/1 'Liberation Sans', sans-serif;color:#757575;transform:scaleX(1.1074);transform-origin:right ;">24<span style="position:relative">º<span style="position:absolute;left:6%;right:6%;top:0.50em;height:0.075em;background:currentColor"></span></span></div>
<div class="t" style="left:1817.0px;top:2469.5px;font:700 30.16px/1 'Liberation Sans', sans-serif;color:#4E7D32;transform:scaleX(1.0002);transform-origin:left ;">80,1</div>
<div class="t" style="left:1891.9px;top:2469.5px;font:400 30.16px/1 'Liberation Sans', sans-serif;color:#B8892B;transform:scaleX(0.9515);transform-origin:left ;">0,6%</div>
<div class="t" style="left:1528.2px;top:2523.0px;font:700 32.656px/1 'Liberation Sans', sans-serif;color:#757575;transform:scaleX(0.9769);transform-origin:right ;">Acre</div>
<div class="t" style="left:1676.2px;top:2521.9px;font:700 32.24px/1 'Liberation Sans', sans-serif;color:#757575;transform:scaleX(1.2500);transform-origin:center ;">|</div>
<div class="t" style="left:1702.2px;top:2523.0px;font:700 32.656px/1 'Liberation Sans', sans-serif;color:#757575;transform:scaleX(1.1074);transform-origin:right ;">25<span style="position:relative">º<span style="position:absolute;left:6%;right:6%;top:0.50em;height:0.075em;background:currentColor"></span></span></div>
<div class="t" style="left:1809.9px;top:2526.3px;font:700 30.16px/1 'Liberation Sans', sans-serif;color:#4E7D32;transform:scaleX(1.0002);transform-origin:left ;">38,6</div>
<div class="t" style="left:1887.9px;top:2526.3px;font:400 30.16px/1 'Liberation Sans', sans-serif;color:#B8892B;transform:scaleX(0.9515);transform-origin:left ;">0,3%</div>
<div class="t" style="left:1470.1px;top:2579.9px;font:700 32.656px/1 'Liberation Sans', sans-serif;color:#757575;transform:scaleX(0.9898);transform-origin:right ;">Roraima</div>
<div class="t" style="left:1676.2px;top:2578.7px;font:700 32.24px/1 'Liberation Sans', sans-serif;color:#757575;transform:scaleX(1.2500);transform-origin:center ;">|</div>
<div class="t" style="left:1702.2px;top:2579.9px;font:700 32.656px/1 'Liberation Sans', sans-serif;color:#757575;transform:scaleX(1.1074);transform-origin:right ;">26<span style="position:relative">º<span style="position:absolute;left:6%;right:6%;top:0.50em;height:0.075em;background:currentColor"></span></span></div>
<div class="t" style="left:1807.5px;top:2583.2px;font:700 30.16px/1 'Liberation Sans', sans-serif;color:#4E7D32;transform:scaleX(1.0138);transform-origin:left ;">21,6</div>
<div class="t" style="left:1886.0px;top:2583.2px;font:400 30.16px/1 'Liberation Sans', sans-serif;color:#B8892B;transform:scaleX(0.9501);transform-origin:left ;">0,2%</div>
<div class="t" style="left:1491.9px;top:2636.7px;font:700 32.656px/1 'Liberation Sans', sans-serif;color:#757575;transform:scaleX(0.9995);transform-origin:right ;">Amapá</div>
<div class="t" style="left:1676.2px;top:2635.5px;font:700 32.24px/1 'Liberation Sans', sans-serif;color:#757575;transform:scaleX(1.2500);transform-origin:center ;">|</div>
<div class="t" style="left:1702.2px;top:2636.7px;font:700 32.656px/1 'Liberation Sans', sans-serif;color:#757575;transform:scaleX(1.1074);transform-origin:right ;">27<span style="position:relative">º<span style="position:absolute;left:6%;right:6%;top:0.50em;height:0.075em;background:currentColor"></span></span></div>
<div class="t" style="left:1807.5px;top:2640.0px;font:700 30.16px/1 'Liberation Sans', sans-serif;color:#4E7D32;transform:scaleX(0.9934);transform-origin:left ;">19,4</div>
<div class="t" style="left:1882.8px;top:2640.0px;font:400 30.16px/1 'Liberation Sans', sans-serif;color:#B8892B;transform:scaleX(0.9690);transform-origin:left ;">0,1%</div>
<div class="t" style="left:1321.3px;top:2879.3px;font:700 31.720000000000002px/1 'Liberation Sans', sans-serif;color:#757575;transform:scaleX(0.9490);transform-origin:right ;">Florianópolis – SC</div>
<div class="t" style="left:1677.4px;top:2877.4px;font:700 32.24px/1 'Liberation Sans', sans-serif;color:#757575;transform:scaleX(1.2500);transform-origin:center ;">|</div>
<div class="t" style="left:2205.5px;top:2881.5px;font:700 29.12px/1 'Liberation Sans', sans-serif;color:#4E7D32;transform:scaleX(1.0089);transform-origin:left ;">232,2</div>
<div class="t" style="left:2291.8px;top:2881.5px;font:400 29.12px/1 'Liberation Sans', sans-serif;color:#B8892B;transform:scaleX(0.9374);transform-origin:left ;">1,7%</div>
<div class="t" style="left:1407.6px;top:2930.6px;font:700 31.720000000000002px/1 'Liberation Sans', sans-serif;color:#757575;transform:scaleX(0.9547);transform-origin:right ;">Brasília – DF</div>
<div class="t" style="left:1677.4px;top:2928.7px;font:700 32.24px/1 'Liberation Sans', sans-serif;color:#757575;transform:scaleX(1.2500);transform-origin:center ;">|</div>
<div class="t" style="left:2082.8px;top:2932.8px;font:700 29.12px/1 'Liberation Sans', sans-serif;color:#4E7D32;transform:scaleX(1.0103);transform-origin:left ;">159,5</div>
<div class="t" style="left:2168.8px;top:2932.8px;font:400 29.12px/1 'Liberation Sans', sans-serif;color:#B8892B;transform:scaleX(0.9600);transform-origin:left ;">1,2%</div>
<div class="t" style="left:1420.0px;top:2981.9px;font:700 31.720000000000002px/1 'Liberation Sans', sans-serif;color:#757575;transform:scaleX(0.9984);transform-origin:right ;">Cuiabá - MT</div>
<div class="t" style="left:1677.4px;top:2979.9px;font:700 32.24px/1 'Liberation Sans', sans-serif;color:#757575;transform:scaleX(1.2500);transform-origin:center ;">|</div>
<div class="t" style="left:2044.6px;top:2984.1px;font:700 29.12px/1 'Liberation Sans', sans-serif;color:#4E7D32;transform:scaleX(1.0103);transform-origin:left ;">137,1</div>
<div class="t" style="left:2134.5px;top:2984.1px;font:400 29.12px/1 'Liberation Sans', sans-serif;color:#B8892B;transform:scaleX(0.9600);transform-origin:left ;">1,0%</div>
<div class="t" style="left:1413.4px;top:3033.1px;font:700 31.720000000000002px/1 'Liberation Sans', sans-serif;color:#757575;transform:scaleX(0.9891);transform-origin:right ;">Teresina - PI</div>
<div class="t" style="left:1677.4px;top:3031.2px;font:700 32.24px/1 'Liberation Sans', sans-serif;color:#757575;transform:scaleX(1.2500);transform-origin:center ;">|</div>
<div class="t" style="left:1719.5px;top:3032.7px;font:700 32.24px/1 'Liberation Sans', sans-serif;color:#757575;transform:scaleX(1.1882);transform-origin:right ;">4<span style="position:relative">º<span style="position:absolute;left:6%;right:6%;top:0.50em;height:0.075em;background:currentColor"></span></span></div>
<div class="t" style="left:2026.8px;top:3035.3px;font:700 29.12px/1 'Liberation Sans', sans-serif;color:#4E7D32;transform:scaleX(1.0103);transform-origin:left ;">126,5</div>
<div class="t" style="left:2114.8px;top:3035.3px;font:400 29.12px/1 'Liberation Sans', sans-serif;color:#B8892B;transform:scaleX(0.9901);transform-origin:left ;">0,9%</div>
<div class="t" style="left:1305.3px;top:3084.4px;font:700 31.720000000000002px/1 'Liberation Sans', sans-serif;color:#757575;transform:scaleX(0.9418);transform-origin:right ;">Rio de Janeiro – RJ</div>
<div class="t" style="left:1677.4px;top:3082.4px;font:700 32.24px/1 'Liberation Sans', sans-serif;color:#757575;transform:scaleX(1.2500);transform-origin:center ;">|</div>
<div class="t" style="left:1719.5px;top:3083.9px;font:700 32.24px/1 'Liberation Sans', sans-serif;color:#757575;transform:scaleX(1.1882);transform-origin:right ;">5<span style="position:relative">º<span style="position:absolute;left:6%;right:6%;top:0.50em;height:0.075em;background:currentColor"></span></span></div>
<div class="t" style="left:2019.7px;top:3086.6px;font:700 29.12px/1 'Liberation Sans', sans-serif;color:#4E7D32;transform:scaleX(1.0158);transform-origin:left ;">122,6</div>
<div class="t" style="left:2104.9px;top:3086.6px;font:400 29.12px/1 'Liberation Sans', sans-serif;color:#B8892B;transform:scaleX(0.9721);transform-origin:left ;">0,9%</div>
<div class="t" style="left:1388.2px;top:3135.6px;font:700 31.720000000000002px/1 'Liberation Sans', sans-serif;color:#757575;transform:scaleX(0.9567);transform-origin:right ;">Fortaleza - CE</div>
<div class="t" style="left:1677.4px;top:3133.7px;font:700 32.24px/1 'Liberation Sans', sans-serif;color:#757575;transform:scaleX(1.2500);transform-origin:center ;">|</div>
<div class="t" style="left:1719.5px;top:3135.2px;font:700 32.24px/1 'Liberation Sans', sans-serif;color:#757575;transform:scaleX(1.1882);transform-origin:right ;">6<span style="position:relative">º<span style="position:absolute;left:6%;right:6%;top:0.50em;height:0.075em;background:currentColor"></span></span></div>
<div class="t" style="left:2005.2px;top:3137.8px;font:700 29.12px/1 'Liberation Sans', sans-serif;color:#4E7D32;transform:scaleX(1.0429);transform-origin:left ;">114,0</div>
<div class="t" style="left:2089.9px;top:3137.8px;font:400 29.12px/1 'Liberation Sans', sans-serif;color:#B8892B;transform:scaleX(0.9781);transform-origin:left ;">0,9%</div>
<div class="t" style="left:1296.6px;top:3186.9px;font:700 31.720000000000002px/1 'Liberation Sans', sans-serif;color:#757575;transform:scaleX(0.9888);transform-origin:right ;">Campo Grande - MS</div>
<div class="t" style="left:1677.4px;top:3185.0px;font:700 32.24px/1 'Liberation Sans', sans-serif;color:#757575;transform:scaleX(1.2500);transform-origin:center ;">|</div>
<div class="t" style="left:1719.5px;top:3186.5px;font:700 32.24px/1 'Liberation Sans', sans-serif;color:#757575;transform:scaleX(1.1882);transform-origin:right ;">7<span style="position:relative">º<span style="position:absolute;left:6%;right:6%;top:0.50em;height:0.075em;background:currentColor"></span></span></div>
<div class="t" style="left:2004.0px;top:3189.1px;font:700 29.12px/1 'Liberation Sans', sans-serif;color:#4E7D32;transform:scaleX(1.0485);transform-origin:left ;">113,4</div>
<div class="t" style="left:2091.1px;top:3189.1px;font:400 29.12px/1 'Liberation Sans', sans-serif;color:#B8892B;transform:scaleX(0.9841);transform-origin:left ;">0,8%</div>
<div class="t" style="left:1398.8px;top:3238.2px;font:700 31.720000000000002px/1 'Liberation Sans', sans-serif;color:#757575;transform:scaleX(0.9776);transform-origin:right ;">Goiânia – GO</div>
<div class="t" style="left:1677.4px;top:3236.2px;font:700 32.24px/1 'Liberation Sans', sans-serif;color:#757575;transform:scaleX(1.2500);transform-origin:center ;">|</div>
<div class="t" style="left:1719.5px;top:3237.7px;font:700 32.24px/1 'Liberation Sans', sans-serif;color:#757575;transform:scaleX(1.1882);transform-origin:right ;">8<span style="position:relative">º<span style="position:absolute;left:6%;right:6%;top:0.50em;height:0.075em;background:currentColor"></span></span></div>
<div class="t" style="left:1987.4px;top:3240.4px;font:700 29.12px/1 'Liberation Sans', sans-serif;color:#4E7D32;transform:scaleX(1.0377);transform-origin:left ;">103,9</div>
<div class="t" style="left:2075.3px;top:3240.4px;font:400 29.12px/1 'Liberation Sans', sans-serif;color:#B8892B;transform:scaleX(0.9841);transform-origin:left ;">0,8%</div>
<div class="t" style="left:1356.5px;top:3289.4px;font:700 31.720000000000002px/1 'Liberation Sans', sans-serif;color:#757575;transform:scaleX(1.0170);transform-origin:right ;">Uberlândia - MG</div>
<div class="t" style="left:1677.4px;top:3287.5px;font:700 32.24px/1 'Liberation Sans', sans-serif;color:#757575;transform:scaleX(1.2500);transform-origin:center ;">|</div>
<div class="t" style="left:1719.5px;top:3289.0px;font:700 32.24px/1 'Liberation Sans', sans-serif;color:#757575;transform:scaleX(1.1882);transform-origin:right ;">9<span style="position:relative">º<span style="position:absolute;left:6%;right:6%;top:0.50em;height:0.075em;background:currentColor"></span></span></div>
<div class="t" style="left:1976.8px;top:3291.6px;font:700 29.12px/1 'Liberation Sans', sans-serif;color:#4E7D32;transform:scaleX(1.0201);transform-origin:left ;">97,6</div>
<div class="t" style="left:2043.8px;top:3291.6px;font:400 29.12px/1 'Liberation Sans', sans-serif;color:#B8892B;transform:scaleX(0.9901);transform-origin:left ;">0,7%</div>
<div class="t" style="left:1398.2px;top:3340.7px;font:700 31.720000000000002px/1 'Liberation Sans', sans-serif;color:#757575;transform:scaleX(1.0433);transform-origin:right ;">Manaus – AM</div>
<div class="t" style="left:1675.5px;top:3338.7px;font:700 32.24px/1 'Liberation Sans', sans-serif;color:#757575;transform:scaleX(1.2500);transform-origin:center ;">|</div>
<div class="t" style="left:1701.6px;top:3340.2px;font:700 32.24px/1 'Liberation Sans', sans-serif;color:#757575;transform:scaleX(1.0790);transform-origin:right ;">10<span style="position:relative">º<span style="position:absolute;left:6%;right:6%;top:0.50em;height:0.075em;background:currentColor"></span></span></div>
<div class="t" style="left:1933.0px;top:3342.9px;font:700 29.12px/1 'Liberation Sans', sans-serif;color:#4E7D32;transform:scaleX(1.0060);transform-origin:left ;">71,2</div>
<div class="t" style="left:2000.0px;top:3342.9px;font:400 29.12px/1 'Liberation Sans', sans-serif;color:#B8892B;transform:scaleX(0.9781);transform-origin:left ;">0,5%</div>
</div></body></html>
